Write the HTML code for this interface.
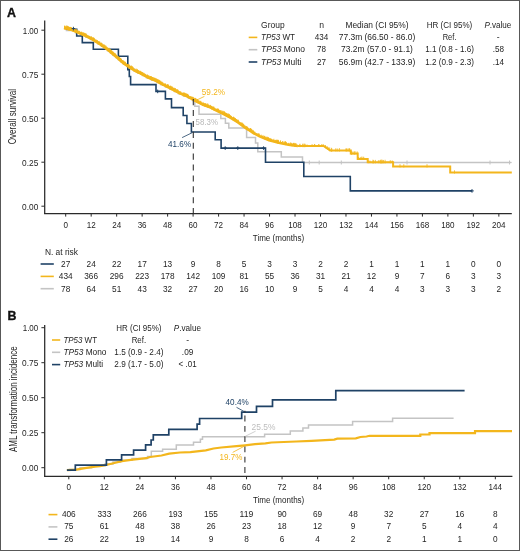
<!DOCTYPE html>
<html><head><meta charset="utf-8"><style>
html,body{margin:0;padding:0;background:#fff;}
body{width:520px;height:551px;overflow:hidden;position:relative;}
svg{position:absolute;left:0;top:0;will-change:transform;}
svg text{font-family:"Liberation Sans", sans-serif;}
.frame{position:absolute;left:0;top:0;width:518px;height:549px;border:1px solid #585858;}
</style></head><body>
<svg width="520" height="551" viewBox="0 0 520 551">
<polyline points="65.70,30.40 75.50,30.40 75.50,32.66 81.00,32.66 81.00,34.92 86.00,34.92 86.00,37.18 90.50,37.18 90.50,39.44 94.50,39.44 94.50,41.70 98.00,41.70 98.00,43.96 101.50,43.96 101.50,46.22 104.50,46.22 104.50,48.48 107.50,48.48 107.50,50.74 110.50,50.74 110.50,53.00 113.00,53.00 113.00,55.26 116.00,55.26 116.00,57.52 118.50,57.52 118.50,59.78 121.00,59.78 121.00,62.04 123.50,62.04 123.50,64.30 127.00,64.30 127.00,66.56 130.50,66.56 130.50,68.82 134.00,68.82 134.00,71.08 138.00,71.08 138.00,73.34 142.50,73.34 142.50,75.60 146.50,75.60 146.50,77.86 151.50,77.86 151.50,80.12 157.00,80.12 157.00,82.38 161.00,82.38 161.00,84.64 165.50,84.64 165.50,86.90 170.00,86.90 170.00,89.16 174.50,89.16 174.50,91.42 178.50,91.42 178.50,93.68 183.50,93.68 183.50,95.94 188.50,95.94 188.50,98.20 192.50,98.20 192.50,100.46 194.80,100.46 194.80,106.20 199.00,106.20 199.00,114.20 220.80,114.20 220.80,118.60 225.40,118.60 225.40,123.20 228.80,123.20 228.80,128.00 246.60,128.00 246.60,137.50 255.50,137.50 255.50,143.00 257.80,143.00 257.80,151.70 281.30,151.70 281.30,157.00 302.50,157.00 302.50,162.50 511.30,162.50" fill="none" stroke="#c4c4c4" stroke-width="1.5" stroke-linejoin="miter" stroke-linecap="butt" />
<polyline points="65.70,29.20 76.70,29.20 76.70,36.00 82.30,36.00 82.30,42.60 93.30,42.60 93.30,49.20 118.40,49.20 118.40,56.30 127.80,56.30 127.80,69.60 129.30,69.60 129.30,76.50 130.60,76.50 130.60,84.60 156.00,84.60 156.00,91.40 165.40,91.40 165.40,98.90 171.50,98.90 171.50,107.60 183.20,107.60 183.20,115.50 186.90,115.50 186.90,123.50 191.40,123.50 191.40,132.00 215.20,132.00 215.20,139.80 221.10,139.80 221.10,148.10 265.50,148.10 265.50,162.30 303.80,162.30 303.80,176.50 350.30,176.50 350.30,190.90 472.00,190.90" fill="none" stroke="#1f4266" stroke-width="1.6" stroke-linejoin="miter" stroke-linecap="butt" />
<polyline points="64.00,27.90 71.50,29.80 79.20,33.10 85.00,35.60 92.70,39.50 100.40,44.30 108.10,50.00 115.80,56.40 123.50,63.20 130.00,67.60 136.00,71.30 140.00,73.10 147.70,77.40 155.40,80.60 163.10,84.60 170.80,88.50 180.00,93.40 187.70,96.60 195.40,100.90 203.10,104.80 210.80,107.60 215.00,109.80 222.70,113.50 230.40,117.50 238.10,122.30 245.80,128.10 250.00,130.60 253.50,133.00 259.60,136.20 269.20,140.10 278.80,142.70 288.50,144.70 298.00,146.00" fill="none" stroke="#f3b61c" stroke-width="2.7" stroke-linejoin="miter" stroke-linecap="butt" stroke-linejoin="round"/>
<polyline points="298.00,146.00 323.60,146.00 326.00,147.60 330.30,150.40 350.80,150.40 350.80,153.60 357.70,153.60 357.70,158.90 367.70,158.90 367.70,162.20 393.10,162.20 393.10,166.40 450.20,166.40 450.20,172.50 511.80,172.50" fill="none" stroke="#f3b61c" stroke-width="2.0" stroke-linejoin="miter" stroke-linecap="butt" />
<line x1="170.19" y1="85.59" x2="170.19" y2="89.14" stroke="#f3b61c" stroke-width="0.8"/>
<line x1="183.13" y1="92.96" x2="183.13" y2="95.20" stroke="#f3b61c" stroke-width="0.8"/>
<line x1="211.61" y1="106.20" x2="211.61" y2="108.28" stroke="#f3b61c" stroke-width="0.8"/>
<line x1="85.76" y1="33.26" x2="85.76" y2="36.40" stroke="#f3b61c" stroke-width="0.8"/>
<line x1="217.23" y1="108.71" x2="217.23" y2="110.91" stroke="#f3b61c" stroke-width="0.8"/>
<line x1="187.92" y1="94.73" x2="187.92" y2="96.99" stroke="#f3b61c" stroke-width="0.8"/>
<line x1="71.62" y1="28.13" x2="71.62" y2="30.82" stroke="#f3b61c" stroke-width="0.8"/>
<line x1="185.76" y1="93.84" x2="185.76" y2="96.64" stroke="#f3b61c" stroke-width="0.8"/>
<line x1="171.34" y1="86.59" x2="171.34" y2="90.26" stroke="#f3b61c" stroke-width="0.8"/>
<line x1="138.19" y1="70.03" x2="138.19" y2="72.46" stroke="#f3b61c" stroke-width="0.8"/>
<line x1="243.45" y1="123.75" x2="243.45" y2="127.16" stroke="#f3b61c" stroke-width="0.8"/>
<line x1="64.73" y1="25.51" x2="64.73" y2="29.03" stroke="#f3b61c" stroke-width="0.8"/>
<line x1="293.42" y1="143.86" x2="293.42" y2="145.91" stroke="#f3b61c" stroke-width="0.8"/>
<line x1="246.30" y1="126.60" x2="246.30" y2="128.68" stroke="#f3b61c" stroke-width="0.8"/>
<line x1="92.14" y1="37.16" x2="92.14" y2="39.26" stroke="#f3b61c" stroke-width="0.8"/>
<line x1="250.62" y1="128.82" x2="250.62" y2="131.72" stroke="#f3b61c" stroke-width="0.8"/>
<line x1="109.11" y1="49.27" x2="109.11" y2="51.42" stroke="#f3b61c" stroke-width="0.8"/>
<line x1="91.79" y1="37.05" x2="91.79" y2="39.34" stroke="#f3b61c" stroke-width="0.8"/>
<line x1="135.59" y1="69.17" x2="135.59" y2="71.46" stroke="#f3b61c" stroke-width="0.8"/>
<line x1="88.02" y1="35.13" x2="88.02" y2="37.42" stroke="#f3b61c" stroke-width="0.8"/>
<line x1="244.95" y1="125.20" x2="244.95" y2="127.64" stroke="#f3b61c" stroke-width="0.8"/>
<line x1="85.63" y1="34.19" x2="85.63" y2="36.54" stroke="#f3b61c" stroke-width="0.8"/>
<line x1="151.36" y1="76.30" x2="151.36" y2="79.91" stroke="#f3b61c" stroke-width="0.8"/>
<line x1="198.70" y1="100.51" x2="198.70" y2="102.75" stroke="#f3b61c" stroke-width="0.8"/>
<line x1="122.83" y1="60.64" x2="122.83" y2="63.87" stroke="#f3b61c" stroke-width="0.8"/>
<line x1="110.48" y1="49.55" x2="110.48" y2="53.03" stroke="#f3b61c" stroke-width="0.8"/>
<line x1="162.97" y1="83.36" x2="162.97" y2="85.34" stroke="#f3b61c" stroke-width="0.8"/>
<line x1="120.24" y1="58.78" x2="120.24" y2="61.16" stroke="#f3b61c" stroke-width="0.8"/>
<line x1="203.82" y1="103.52" x2="203.82" y2="105.74" stroke="#f3b61c" stroke-width="0.8"/>
<line x1="80.65" y1="31.88" x2="80.65" y2="34.78" stroke="#f3b61c" stroke-width="0.8"/>
<line x1="207.98" y1="103.75" x2="207.98" y2="107.28" stroke="#f3b61c" stroke-width="0.8"/>
<line x1="68.47" y1="26.60" x2="68.47" y2="29.30" stroke="#f3b61c" stroke-width="0.8"/>
<line x1="105.74" y1="45.74" x2="105.74" y2="48.67" stroke="#f3b61c" stroke-width="0.8"/>
<line x1="149.12" y1="75.50" x2="149.12" y2="79.15" stroke="#f3b61c" stroke-width="0.8"/>
<line x1="225.93" y1="113.06" x2="225.93" y2="115.22" stroke="#f3b61c" stroke-width="0.8"/>
<line x1="68.78" y1="27.21" x2="68.78" y2="30.36" stroke="#f3b61c" stroke-width="0.8"/>
<line x1="69.56" y1="27.44" x2="69.56" y2="30.20" stroke="#f3b61c" stroke-width="0.8"/>
<line x1="139.03" y1="71.07" x2="139.03" y2="73.13" stroke="#f3b61c" stroke-width="0.8"/>
<line x1="236.62" y1="119.20" x2="236.62" y2="122.42" stroke="#f3b61c" stroke-width="0.8"/>
<line x1="249.75" y1="128.68" x2="249.75" y2="131.22" stroke="#f3b61c" stroke-width="0.8"/>
<line x1="161.96" y1="81.58" x2="161.96" y2="85.02" stroke="#f3b61c" stroke-width="0.8"/>
<line x1="210.47" y1="105.39" x2="210.47" y2="108.33" stroke="#f3b61c" stroke-width="0.8"/>
<line x1="83.32" y1="32.57" x2="83.32" y2="36.24" stroke="#f3b61c" stroke-width="0.8"/>
<line x1="234.56" y1="117.81" x2="234.56" y2="121.02" stroke="#f3b61c" stroke-width="0.8"/>
<line x1="167.42" y1="85.37" x2="167.42" y2="87.44" stroke="#f3b61c" stroke-width="0.8"/>
<line x1="71.55" y1="27.50" x2="71.55" y2="30.27" stroke="#f3b61c" stroke-width="0.8"/>
<line x1="227.59" y1="114.19" x2="227.59" y2="117.19" stroke="#f3b61c" stroke-width="0.8"/>
<line x1="124.31" y1="62.03" x2="124.31" y2="64.48" stroke="#f3b61c" stroke-width="0.8"/>
<line x1="111.88" y1="50.74" x2="111.88" y2="54.25" stroke="#f3b61c" stroke-width="0.8"/>
<line x1="167.75" y1="85.19" x2="167.75" y2="87.69" stroke="#f3b61c" stroke-width="0.8"/>
<line x1="110.93" y1="50.29" x2="110.93" y2="53.63" stroke="#f3b61c" stroke-width="0.8"/>
<line x1="270.05" y1="137.97" x2="270.05" y2="140.92" stroke="#f3b61c" stroke-width="0.8"/>
<line x1="96.38" y1="39.64" x2="96.38" y2="43.03" stroke="#f3b61c" stroke-width="0.8"/>
<line x1="230.60" y1="115.47" x2="230.60" y2="117.88" stroke="#f3b61c" stroke-width="0.8"/>
<line x1="169.78" y1="86.12" x2="169.78" y2="88.42" stroke="#f3b61c" stroke-width="0.8"/>
<line x1="210.65" y1="105.95" x2="210.65" y2="108.43" stroke="#f3b61c" stroke-width="0.8"/>
<line x1="293.81" y1="143.37" x2="293.81" y2="145.42" stroke="#f3b61c" stroke-width="0.8"/>
<line x1="268.32" y1="137.48" x2="268.32" y2="140.64" stroke="#f3b61c" stroke-width="0.8"/>
<line x1="136.73" y1="69.73" x2="136.73" y2="71.68" stroke="#f3b61c" stroke-width="0.8"/>
<line x1="170.76" y1="85.78" x2="170.76" y2="89.16" stroke="#f3b61c" stroke-width="0.8"/>
<line x1="97.48" y1="40.19" x2="97.48" y2="43.22" stroke="#f3b61c" stroke-width="0.8"/>
<line x1="211.63" y1="106.01" x2="211.63" y2="109.35" stroke="#f3b61c" stroke-width="0.8"/>
<line x1="224.36" y1="112.00" x2="224.36" y2="114.76" stroke="#f3b61c" stroke-width="0.8"/>
<line x1="67.11" y1="26.06" x2="67.11" y2="29.24" stroke="#f3b61c" stroke-width="0.8"/>
<line x1="128.17" y1="64.06" x2="128.17" y2="67.21" stroke="#f3b61c" stroke-width="0.8"/>
<line x1="208.01" y1="104.87" x2="208.01" y2="107.48" stroke="#f3b61c" stroke-width="0.8"/>
<line x1="276.12" y1="139.60" x2="276.12" y2="143.16" stroke="#f3b61c" stroke-width="0.8"/>
<line x1="94.92" y1="39.02" x2="94.92" y2="42.04" stroke="#f3b61c" stroke-width="0.8"/>
<line x1="152.55" y1="77.16" x2="152.55" y2="80.63" stroke="#f3b61c" stroke-width="0.8"/>
<line x1="284.99" y1="141.44" x2="284.99" y2="144.51" stroke="#f3b61c" stroke-width="0.8"/>
<line x1="233.10" y1="117.12" x2="233.10" y2="120.17" stroke="#f3b61c" stroke-width="0.8"/>
<line x1="114.38" y1="53.02" x2="114.38" y2="56.67" stroke="#f3b61c" stroke-width="0.8"/>
<line x1="189.93" y1="96.31" x2="189.93" y2="98.79" stroke="#f3b61c" stroke-width="0.8"/>
<line x1="264.34" y1="136.43" x2="264.34" y2="138.50" stroke="#f3b61c" stroke-width="0.8"/>
<line x1="193.04" y1="97.07" x2="193.04" y2="99.85" stroke="#f3b61c" stroke-width="0.8"/>
<line x1="253.45" y1="130.24" x2="253.45" y2="133.57" stroke="#f3b61c" stroke-width="0.8"/>
<line x1="142.79" y1="72.64" x2="142.79" y2="74.80" stroke="#f3b61c" stroke-width="0.8"/>
<line x1="185.16" y1="93.24" x2="185.16" y2="96.64" stroke="#f3b61c" stroke-width="0.8"/>
<line x1="285.34" y1="141.08" x2="285.34" y2="144.67" stroke="#f3b61c" stroke-width="0.8"/>
<line x1="116.28" y1="55.16" x2="116.28" y2="57.59" stroke="#f3b61c" stroke-width="0.8"/>
<line x1="213.71" y1="106.70" x2="213.71" y2="110.11" stroke="#f3b61c" stroke-width="0.8"/>
<line x1="137.35" y1="69.79" x2="137.35" y2="73.20" stroke="#f3b61c" stroke-width="0.8"/>
<line x1="113.20" y1="51.65" x2="113.20" y2="55.27" stroke="#f3b61c" stroke-width="0.8"/>
<line x1="198.34" y1="100.25" x2="198.34" y2="103.11" stroke="#f3b61c" stroke-width="0.8"/>
<line x1="205.86" y1="103.20" x2="205.86" y2="106.83" stroke="#f3b61c" stroke-width="0.8"/>
<line x1="158.10" y1="79.82" x2="158.10" y2="82.73" stroke="#f3b61c" stroke-width="0.8"/>
<line x1="225.88" y1="112.93" x2="225.88" y2="115.80" stroke="#f3b61c" stroke-width="0.8"/>
<line x1="127.43" y1="64.11" x2="127.43" y2="66.26" stroke="#f3b61c" stroke-width="0.8"/>
<line x1="175.82" y1="89.52" x2="175.82" y2="91.78" stroke="#f3b61c" stroke-width="0.8"/>
<line x1="280.56" y1="140.23" x2="280.56" y2="143.52" stroke="#f3b61c" stroke-width="0.8"/>
<line x1="109.90" y1="49.03" x2="109.90" y2="52.16" stroke="#f3b61c" stroke-width="0.8"/>
<line x1="147.54" y1="75.85" x2="147.54" y2="77.96" stroke="#f3b61c" stroke-width="0.8"/>
<line x1="93.26" y1="37.75" x2="93.26" y2="40.11" stroke="#f3b61c" stroke-width="0.8"/>
<line x1="188.38" y1="94.94" x2="188.38" y2="97.52" stroke="#f3b61c" stroke-width="0.8"/>
<line x1="188.15" y1="95.19" x2="188.15" y2="97.47" stroke="#f3b61c" stroke-width="0.8"/>
<line x1="213.62" y1="106.69" x2="213.62" y2="110.11" stroke="#f3b61c" stroke-width="0.8"/>
<line x1="264.57" y1="136.13" x2="264.57" y2="139.36" stroke="#f3b61c" stroke-width="0.8"/>
<line x1="275.28" y1="140.23" x2="275.28" y2="142.71" stroke="#f3b61c" stroke-width="0.8"/>
<line x1="115.51" y1="53.31" x2="115.51" y2="56.79" stroke="#f3b61c" stroke-width="0.8"/>
<line x1="120.46" y1="58.32" x2="120.46" y2="60.70" stroke="#f3b61c" stroke-width="0.8"/>
<line x1="258.83" y1="133.04" x2="258.83" y2="136.35" stroke="#f3b61c" stroke-width="0.8"/>
<line x1="158.61" y1="80.43" x2="158.61" y2="82.38" stroke="#f3b61c" stroke-width="0.8"/>
<line x1="223.87" y1="111.15" x2="223.87" y2="114.77" stroke="#f3b61c" stroke-width="0.8"/>
<line x1="182.63" y1="92.56" x2="182.63" y2="95.36" stroke="#f3b61c" stroke-width="0.8"/>
<line x1="108.71" y1="48.43" x2="108.71" y2="50.53" stroke="#f3b61c" stroke-width="0.8"/>
<line x1="193.36" y1="97.27" x2="193.36" y2="100.19" stroke="#f3b61c" stroke-width="0.8"/>
<line x1="107.67" y1="47.65" x2="107.67" y2="51.05" stroke="#f3b61c" stroke-width="0.8"/>
<line x1="280.94" y1="141.93" x2="280.94" y2="143.96" stroke="#f3b61c" stroke-width="0.8"/>
<line x1="172.45" y1="87.44" x2="172.45" y2="89.93" stroke="#f3b61c" stroke-width="0.8"/>
<line x1="184.87" y1="92.77" x2="184.87" y2="95.75" stroke="#f3b61c" stroke-width="0.8"/>
<line x1="228.22" y1="114.58" x2="228.22" y2="116.82" stroke="#f3b61c" stroke-width="0.8"/>
<line x1="237.16" y1="119.65" x2="237.16" y2="121.91" stroke="#f3b61c" stroke-width="0.8"/>
<line x1="184.23" y1="92.90" x2="184.23" y2="96.39" stroke="#f3b61c" stroke-width="0.8"/>
<line x1="229.07" y1="114.48" x2="229.07" y2="117.51" stroke="#f3b61c" stroke-width="0.8"/>
<line x1="204.55" y1="102.97" x2="204.55" y2="106.62" stroke="#f3b61c" stroke-width="0.8"/>
<line x1="124.88" y1="62.01" x2="124.88" y2="65.24" stroke="#f3b61c" stroke-width="0.8"/>
<line x1="254.74" y1="131.45" x2="254.74" y2="134.95" stroke="#f3b61c" stroke-width="0.8"/>
<line x1="226.77" y1="113.14" x2="226.77" y2="116.40" stroke="#f3b61c" stroke-width="0.8"/>
<line x1="233.26" y1="117.33" x2="233.26" y2="119.85" stroke="#f3b61c" stroke-width="0.8"/>
<line x1="67.07" y1="26.54" x2="67.07" y2="29.58" stroke="#f3b61c" stroke-width="0.8"/>
<line x1="118.77" y1="56.60" x2="118.77" y2="59.69" stroke="#f3b61c" stroke-width="0.8"/>
<line x1="218.59" y1="109.29" x2="218.59" y2="112.15" stroke="#f3b61c" stroke-width="0.8"/>
<line x1="228.27" y1="113.34" x2="228.27" y2="116.98" stroke="#f3b61c" stroke-width="0.8"/>
<line x1="208.23" y1="104.75" x2="208.23" y2="107.12" stroke="#f3b61c" stroke-width="0.8"/>
<line x1="76.38" y1="29.57" x2="76.38" y2="32.15" stroke="#f3b61c" stroke-width="0.8"/>
<line x1="123.16" y1="60.75" x2="123.16" y2="63.64" stroke="#f3b61c" stroke-width="0.8"/>
<line x1="290.33" y1="142.43" x2="290.33" y2="146.10" stroke="#f3b61c" stroke-width="0.8"/>
<line x1="253.54" y1="131.05" x2="253.54" y2="134.02" stroke="#f3b61c" stroke-width="0.8"/>
<line x1="75.13" y1="29.60" x2="75.13" y2="31.81" stroke="#f3b61c" stroke-width="0.8"/>
<line x1="104.07" y1="44.40" x2="104.07" y2="47.40" stroke="#f3b61c" stroke-width="0.8"/>
<line x1="285.23" y1="141.98" x2="285.23" y2="144.83" stroke="#f3b61c" stroke-width="0.8"/>
<line x1="149.93" y1="76.11" x2="149.93" y2="79.18" stroke="#f3b61c" stroke-width="0.8"/>
<line x1="130.78" y1="65.77" x2="130.78" y2="68.21" stroke="#f3b61c" stroke-width="0.8"/>
<line x1="121.79" y1="60.20" x2="121.79" y2="62.39" stroke="#f3b61c" stroke-width="0.8"/>
<line x1="155.62" y1="77.93" x2="155.62" y2="81.17" stroke="#f3b61c" stroke-width="0.8"/>
<line x1="81.76" y1="32.16" x2="81.76" y2="34.84" stroke="#f3b61c" stroke-width="0.8"/>
<line x1="291.74" y1="143.41" x2="291.74" y2="146.25" stroke="#f3b61c" stroke-width="0.8"/>
<line x1="233.29" y1="116.96" x2="233.29" y2="120.60" stroke="#f3b61c" stroke-width="0.8"/>
<line x1="205.49" y1="103.39" x2="205.49" y2="106.41" stroke="#f3b61c" stroke-width="0.8"/>
<line x1="112.13" y1="50.88" x2="112.13" y2="53.73" stroke="#f3b61c" stroke-width="0.8"/>
<line x1="167.96" y1="84.80" x2="167.96" y2="87.52" stroke="#f3b61c" stroke-width="0.8"/>
<line x1="200.49" y1="101.10" x2="200.49" y2="104.39" stroke="#f3b61c" stroke-width="0.8"/>
<line x1="235.98" y1="119.66" x2="235.98" y2="121.78" stroke="#f3b61c" stroke-width="0.8"/>
<line x1="247.66" y1="127.06" x2="247.66" y2="129.61" stroke="#f3b61c" stroke-width="0.8"/>
<line x1="224.49" y1="112.35" x2="224.49" y2="115.31" stroke="#f3b61c" stroke-width="0.8"/>
<line x1="240.43" y1="122.66" x2="240.43" y2="125.02" stroke="#f3b61c" stroke-width="0.8"/>
<line x1="73.82" y1="28.88" x2="73.82" y2="31.28" stroke="#f3b61c" stroke-width="0.8"/>
<line x1="210.09" y1="104.81" x2="210.09" y2="107.68" stroke="#f3b61c" stroke-width="0.8"/>
<line x1="84.78" y1="33.47" x2="84.78" y2="36.35" stroke="#f3b61c" stroke-width="0.8"/>
<line x1="151.70" y1="77.14" x2="151.70" y2="79.43" stroke="#f3b61c" stroke-width="0.8"/>
<line x1="238.44" y1="120.58" x2="238.44" y2="122.63" stroke="#f3b61c" stroke-width="0.8"/>
<line x1="244.03" y1="124.53" x2="244.03" y2="127.20" stroke="#f3b61c" stroke-width="0.8"/>
<line x1="253.63" y1="131.24" x2="253.63" y2="134.31" stroke="#f3b61c" stroke-width="0.8"/>
<line x1="140.55" y1="71.41" x2="140.55" y2="74.65" stroke="#f3b61c" stroke-width="0.8"/>
<line x1="164.41" y1="83.95" x2="164.41" y2="86.04" stroke="#f3b61c" stroke-width="0.8"/>
<line x1="82.92" y1="32.52" x2="82.92" y2="35.43" stroke="#f3b61c" stroke-width="0.8"/>
<line x1="224.56" y1="111.68" x2="224.56" y2="114.96" stroke="#f3b61c" stroke-width="0.8"/>
<line x1="114.37" y1="53.40" x2="114.37" y2="55.46" stroke="#f3b61c" stroke-width="0.8"/>
<line x1="233.81" y1="117.45" x2="233.81" y2="119.86" stroke="#f3b61c" stroke-width="0.8"/>
<line x1="148.11" y1="75.27" x2="148.11" y2="77.84" stroke="#f3b61c" stroke-width="0.8"/>
<line x1="230.14" y1="115.20" x2="230.14" y2="118.74" stroke="#f3b61c" stroke-width="0.8"/>
<line x1="277.78" y1="139.82" x2="277.78" y2="143.15" stroke="#f3b61c" stroke-width="0.8"/>
<line x1="138.73" y1="70.31" x2="138.73" y2="73.87" stroke="#f3b61c" stroke-width="0.8"/>
<line x1="122.55" y1="60.29" x2="122.55" y2="62.85" stroke="#f3b61c" stroke-width="0.8"/>
<line x1="156.94" y1="79.69" x2="156.94" y2="81.95" stroke="#f3b61c" stroke-width="0.8"/>
<line x1="250.64" y1="128.62" x2="250.64" y2="132.02" stroke="#f3b61c" stroke-width="0.8"/>
<line x1="105.82" y1="45.59" x2="105.82" y2="49.06" stroke="#f3b61c" stroke-width="0.8"/>
<line x1="69.79" y1="27.28" x2="69.79" y2="30.16" stroke="#f3b61c" stroke-width="0.8"/>
<line x1="252.33" y1="130.30" x2="252.33" y2="133.19" stroke="#f3b61c" stroke-width="0.8"/>
<line x1="84.22" y1="33.26" x2="84.22" y2="36.48" stroke="#f3b61c" stroke-width="0.8"/>
<line x1="84.37" y1="33.84" x2="84.37" y2="36.01" stroke="#f3b61c" stroke-width="0.8"/>
<line x1="216.08" y1="108.76" x2="216.08" y2="111.07" stroke="#f3b61c" stroke-width="0.8"/>
<line x1="186.33" y1="93.90" x2="186.33" y2="96.52" stroke="#f3b61c" stroke-width="0.8"/>
<line x1="179.82" y1="91.15" x2="179.82" y2="94.34" stroke="#f3b61c" stroke-width="0.8"/>
<line x1="278.16" y1="140.22" x2="278.16" y2="143.59" stroke="#f3b61c" stroke-width="0.8"/>
<line x1="186.87" y1="93.75" x2="186.87" y2="97.08" stroke="#f3b61c" stroke-width="0.8"/>
<line x1="162.73" y1="82.49" x2="162.73" y2="85.71" stroke="#f3b61c" stroke-width="0.8"/>
<line x1="152.25" y1="77.45" x2="152.25" y2="79.73" stroke="#f3b61c" stroke-width="0.8"/>
<line x1="132.76" y1="67.51" x2="132.76" y2="69.54" stroke="#f3b61c" stroke-width="0.8"/>
<line x1="91.40" y1="36.15" x2="91.40" y2="39.43" stroke="#f3b61c" stroke-width="0.8"/>
<line x1="79.15" y1="31.25" x2="79.15" y2="34.20" stroke="#f3b61c" stroke-width="0.8"/>
<line x1="73.09" y1="28.47" x2="73.09" y2="30.72" stroke="#f3b61c" stroke-width="0.8"/>
<line x1="119.54" y1="57.25" x2="119.54" y2="60.22" stroke="#f3b61c" stroke-width="0.8"/>
<line x1="107.78" y1="48.25" x2="107.78" y2="50.48" stroke="#f3b61c" stroke-width="0.8"/>
<line x1="137.36" y1="69.44" x2="137.36" y2="72.80" stroke="#f3b61c" stroke-width="0.8"/>
<line x1="125.39" y1="61.78" x2="125.39" y2="65.31" stroke="#f3b61c" stroke-width="0.8"/>
<line x1="192.35" y1="96.87" x2="192.35" y2="99.63" stroke="#f3b61c" stroke-width="0.8"/>
<line x1="76.20" y1="29.28" x2="76.20" y2="32.61" stroke="#f3b61c" stroke-width="0.8"/>
<line x1="187.74" y1="95.21" x2="187.74" y2="97.61" stroke="#f3b61c" stroke-width="0.8"/>
<line x1="218.07" y1="109.69" x2="218.07" y2="111.63" stroke="#f3b61c" stroke-width="0.8"/>
<line x1="151.32" y1="76.67" x2="151.32" y2="79.84" stroke="#f3b61c" stroke-width="0.8"/>
<line x1="101.31" y1="42.85" x2="101.31" y2="45.34" stroke="#f3b61c" stroke-width="0.8"/>
<line x1="267.48" y1="137.60" x2="267.48" y2="140.64" stroke="#f3b61c" stroke-width="0.8"/>
<line x1="126.80" y1="63.96" x2="126.80" y2="66.15" stroke="#f3b61c" stroke-width="0.8"/>
<line x1="64.92" y1="25.94" x2="64.92" y2="29.35" stroke="#f3b61c" stroke-width="0.8"/>
<line x1="83.84" y1="32.40" x2="83.84" y2="35.58" stroke="#f3b61c" stroke-width="0.8"/>
<line x1="176.66" y1="89.10" x2="176.66" y2="92.70" stroke="#f3b61c" stroke-width="0.8"/>
<line x1="264.70" y1="135.78" x2="264.70" y2="139.09" stroke="#f3b61c" stroke-width="0.8"/>
<line x1="278.57" y1="139.92" x2="278.57" y2="143.29" stroke="#f3b61c" stroke-width="0.8"/>
<line x1="191.42" y1="97.25" x2="191.42" y2="99.45" stroke="#f3b61c" stroke-width="0.8"/>
<line x1="137.28" y1="70.07" x2="137.28" y2="72.12" stroke="#f3b61c" stroke-width="0.8"/>
<line x1="173.65" y1="88.24" x2="173.65" y2="90.79" stroke="#f3b61c" stroke-width="0.8"/>
<line x1="89.28" y1="36.13" x2="89.28" y2="38.86" stroke="#f3b61c" stroke-width="0.8"/>
<line x1="67.48" y1="26.21" x2="67.48" y2="29.38" stroke="#f3b61c" stroke-width="0.8"/>
<line x1="196.26" y1="100.22" x2="196.26" y2="102.16" stroke="#f3b61c" stroke-width="0.8"/>
<line x1="251.19" y1="129.00" x2="251.19" y2="132.01" stroke="#f3b61c" stroke-width="0.8"/>
<line x1="152.36" y1="77.31" x2="152.36" y2="79.76" stroke="#f3b61c" stroke-width="0.8"/>
<line x1="156.14" y1="78.88" x2="156.14" y2="81.25" stroke="#f3b61c" stroke-width="0.8"/>
<line x1="235.32" y1="118.03" x2="235.32" y2="121.62" stroke="#f3b61c" stroke-width="0.8"/>
<line x1="233.53" y1="116.63" x2="233.53" y2="120.00" stroke="#f3b61c" stroke-width="0.8"/>
<line x1="97.47" y1="40.36" x2="97.47" y2="43.48" stroke="#f3b61c" stroke-width="0.8"/>
<line x1="106.58" y1="46.49" x2="106.58" y2="49.88" stroke="#f3b61c" stroke-width="0.8"/>
<line x1="85.63" y1="33.86" x2="85.63" y2="36.05" stroke="#f3b61c" stroke-width="0.8"/>
<line x1="159.56" y1="80.13" x2="159.56" y2="83.67" stroke="#f3b61c" stroke-width="0.8"/>
<line x1="184.00" y1="92.96" x2="184.00" y2="96.23" stroke="#f3b61c" stroke-width="0.8"/>
<line x1="154.68" y1="77.86" x2="154.68" y2="80.51" stroke="#f3b61c" stroke-width="0.8"/>
<line x1="158.13" y1="79.65" x2="158.13" y2="83.29" stroke="#f3b61c" stroke-width="0.8"/>
<line x1="218.70" y1="109.85" x2="218.70" y2="111.81" stroke="#f3b61c" stroke-width="0.8"/>
<line x1="144.48" y1="73.82" x2="144.48" y2="75.93" stroke="#f3b61c" stroke-width="0.8"/>
<line x1="183.49" y1="92.49" x2="183.49" y2="95.86" stroke="#f3b61c" stroke-width="0.8"/>
<line x1="101.56" y1="42.66" x2="101.56" y2="46.17" stroke="#f3b61c" stroke-width="0.8"/>
<line x1="146.89" y1="75.43" x2="146.89" y2="77.60" stroke="#f3b61c" stroke-width="0.8"/>
<line x1="294.91" y1="143.54" x2="294.91" y2="146.72" stroke="#f3b61c" stroke-width="0.8"/>
<line x1="110.63" y1="49.59" x2="110.63" y2="52.61" stroke="#f3b61c" stroke-width="0.8"/>
<line x1="84.03" y1="33.17" x2="84.03" y2="36.11" stroke="#f3b61c" stroke-width="0.8"/>
<line x1="141.43" y1="71.92" x2="141.43" y2="74.47" stroke="#f3b61c" stroke-width="0.8"/>
<line x1="93.55" y1="38.69" x2="93.55" y2="40.85" stroke="#f3b61c" stroke-width="0.8"/>
<line x1="191.44" y1="96.31" x2="191.44" y2="99.21" stroke="#f3b61c" stroke-width="0.8"/>
<line x1="93.23" y1="38.32" x2="93.23" y2="40.75" stroke="#f3b61c" stroke-width="0.8"/>
<line x1="120.82" y1="58.08" x2="120.82" y2="61.47" stroke="#f3b61c" stroke-width="0.8"/>
<line x1="192.47" y1="97.39" x2="192.47" y2="99.37" stroke="#f3b61c" stroke-width="0.8"/>
<line x1="218.26" y1="109.29" x2="218.26" y2="112.40" stroke="#f3b61c" stroke-width="0.8"/>
<line x1="153.68" y1="77.01" x2="153.68" y2="80.35" stroke="#f3b61c" stroke-width="0.8"/>
<line x1="111.17" y1="50.74" x2="111.17" y2="52.91" stroke="#f3b61c" stroke-width="0.8"/>
<line x1="197.53" y1="99.64" x2="197.53" y2="102.48" stroke="#f3b61c" stroke-width="0.8"/>
<line x1="197.18" y1="99.13" x2="197.18" y2="102.18" stroke="#f3b61c" stroke-width="0.8"/>
<line x1="221.21" y1="110.27" x2="221.21" y2="113.88" stroke="#f3b61c" stroke-width="0.8"/>
<line x1="174.28" y1="88.29" x2="174.28" y2="91.30" stroke="#f3b61c" stroke-width="0.8"/>
<line x1="241.53" y1="123.24" x2="241.53" y2="126.02" stroke="#f3b61c" stroke-width="0.8"/>
<line x1="160.07" y1="81.22" x2="160.07" y2="84.13" stroke="#f3b61c" stroke-width="0.8"/>
<line x1="187.36" y1="94.80" x2="187.36" y2="97.48" stroke="#f3b61c" stroke-width="0.8"/>
<line x1="139.45" y1="70.86" x2="139.45" y2="74.06" stroke="#f3b61c" stroke-width="0.8"/>
<line x1="235.45" y1="118.10" x2="235.45" y2="121.34" stroke="#f3b61c" stroke-width="0.8"/>
<line x1="203.11" y1="103.07" x2="203.11" y2="105.21" stroke="#f3b61c" stroke-width="0.8"/>
<line x1="181.91" y1="92.76" x2="181.91" y2="94.78" stroke="#f3b61c" stroke-width="0.8"/>
<line x1="187.42" y1="94.50" x2="187.42" y2="96.96" stroke="#f3b61c" stroke-width="0.8"/>
<line x1="119.65" y1="57.67" x2="119.65" y2="61.19" stroke="#f3b61c" stroke-width="0.8"/>
<line x1="219.98" y1="110.45" x2="219.98" y2="113.11" stroke="#f3b61c" stroke-width="0.8"/>
<line x1="116.36" y1="55.09" x2="116.36" y2="58.00" stroke="#f3b61c" stroke-width="0.8"/>
<line x1="87.60" y1="35.27" x2="87.60" y2="37.40" stroke="#f3b61c" stroke-width="0.8"/>
<line x1="286.56" y1="142.30" x2="286.56" y2="144.65" stroke="#f3b61c" stroke-width="0.8"/>
<line x1="140.40" y1="71.07" x2="140.40" y2="74.57" stroke="#f3b61c" stroke-width="0.8"/>
<line x1="157.32" y1="78.99" x2="157.32" y2="81.94" stroke="#f3b61c" stroke-width="0.8"/>
<line x1="71.87" y1="28.07" x2="71.87" y2="30.53" stroke="#f3b61c" stroke-width="0.8"/>
<line x1="174.91" y1="89.20" x2="174.91" y2="91.64" stroke="#f3b61c" stroke-width="0.8"/>
<line x1="273.91" y1="138.77" x2="273.91" y2="142.17" stroke="#f3b61c" stroke-width="0.8"/>
<line x1="174.88" y1="88.60" x2="174.88" y2="92.07" stroke="#f3b61c" stroke-width="0.8"/>
<line x1="111.75" y1="51.61" x2="111.75" y2="53.87" stroke="#f3b61c" stroke-width="0.8"/>
<line x1="76.27" y1="29.33" x2="76.27" y2="32.53" stroke="#f3b61c" stroke-width="0.8"/>
<line x1="231.05" y1="115.98" x2="231.05" y2="119.13" stroke="#f3b61c" stroke-width="0.8"/>
<line x1="168.50" y1="85.37" x2="168.50" y2="87.68" stroke="#f3b61c" stroke-width="0.8"/>
<line x1="230.44" y1="115.54" x2="230.44" y2="117.78" stroke="#f3b61c" stroke-width="0.8"/>
<line x1="219.72" y1="110.25" x2="219.72" y2="112.83" stroke="#f3b61c" stroke-width="0.8"/>
<line x1="271.03" y1="138.61" x2="271.03" y2="140.94" stroke="#f3b61c" stroke-width="0.8"/>
<line x1="129.21" y1="65.85" x2="129.21" y2="67.93" stroke="#f3b61c" stroke-width="0.8"/>
<line x1="167.38" y1="84.22" x2="167.38" y2="87.08" stroke="#f3b61c" stroke-width="0.8"/>
<line x1="204.57" y1="103.78" x2="204.57" y2="106.14" stroke="#f3b61c" stroke-width="0.8"/>
<line x1="84.94" y1="32.97" x2="84.94" y2="36.22" stroke="#f3b61c" stroke-width="0.8"/>
<line x1="129.74" y1="66.03" x2="129.74" y2="68.28" stroke="#f3b61c" stroke-width="0.8"/>
<line x1="295.14" y1="143.78" x2="295.14" y2="146.51" stroke="#f3b61c" stroke-width="0.8"/>
<line x1="154.39" y1="77.79" x2="154.39" y2="80.59" stroke="#f3b61c" stroke-width="0.8"/>
<line x1="194.37" y1="98.52" x2="194.37" y2="101.08" stroke="#f3b61c" stroke-width="0.8"/>
<line x1="247.35" y1="127.23" x2="247.35" y2="130.04" stroke="#f3b61c" stroke-width="0.8"/>
<line x1="224.31" y1="111.44" x2="224.31" y2="115.04" stroke="#f3b61c" stroke-width="0.8"/>
<line x1="246.57" y1="126.10" x2="246.57" y2="129.09" stroke="#f3b61c" stroke-width="0.8"/>
<line x1="167.40" y1="84.62" x2="167.40" y2="87.93" stroke="#f3b61c" stroke-width="0.8"/>
<line x1="119.67" y1="58.09" x2="119.67" y2="60.40" stroke="#f3b61c" stroke-width="0.8"/>
<line x1="181.06" y1="91.83" x2="181.06" y2="94.80" stroke="#f3b61c" stroke-width="0.8"/>
<line x1="198.25" y1="100.28" x2="198.25" y2="102.52" stroke="#f3b61c" stroke-width="0.8"/>
<line x1="68.75" y1="27.02" x2="68.75" y2="29.71" stroke="#f3b61c" stroke-width="0.8"/>
<line x1="125.97" y1="63.61" x2="125.97" y2="65.66" stroke="#f3b61c" stroke-width="0.8"/>
<line x1="197.38" y1="99.25" x2="197.38" y2="102.56" stroke="#f3b61c" stroke-width="0.8"/>
<line x1="98.73" y1="41.50" x2="98.73" y2="43.49" stroke="#f3b61c" stroke-width="0.8"/>
<line x1="209.59" y1="105.40" x2="209.59" y2="107.78" stroke="#f3b61c" stroke-width="0.8"/>
<line x1="85.25" y1="33.77" x2="85.25" y2="35.99" stroke="#f3b61c" stroke-width="0.8"/>
<line x1="101.90" y1="43.20" x2="101.90" y2="46.59" stroke="#f3b61c" stroke-width="0.8"/>
<line x1="78.87" y1="30.75" x2="78.87" y2="33.31" stroke="#f3b61c" stroke-width="0.8"/>
<line x1="291.12" y1="143.21" x2="291.12" y2="145.99" stroke="#f3b61c" stroke-width="0.8"/>
<line x1="294.78" y1="143.73" x2="294.78" y2="146.45" stroke="#f3b61c" stroke-width="0.8"/>
<line x1="73.75" y1="27.91" x2="73.75" y2="31.40" stroke="#f3b61c" stroke-width="0.8"/>
<line x1="156.31" y1="78.67" x2="156.31" y2="81.34" stroke="#f3b61c" stroke-width="0.8"/>
<line x1="72.60" y1="28.09" x2="72.60" y2="31.36" stroke="#f3b61c" stroke-width="0.8"/>
<line x1="118.25" y1="56.18" x2="118.25" y2="59.07" stroke="#f3b61c" stroke-width="0.8"/>
<line x1="172.33" y1="87.22" x2="172.33" y2="89.78" stroke="#f3b61c" stroke-width="0.8"/>
<line x1="73.86" y1="28.15" x2="73.86" y2="31.21" stroke="#f3b61c" stroke-width="0.8"/>
<line x1="144.70" y1="73.31" x2="144.70" y2="76.75" stroke="#f3b61c" stroke-width="0.8"/>
<line x1="271.48" y1="139.04" x2="271.48" y2="141.66" stroke="#f3b61c" stroke-width="0.8"/>
<line x1="153.56" y1="77.91" x2="153.56" y2="80.21" stroke="#f3b61c" stroke-width="0.8"/>
<line x1="107.45" y1="47.53" x2="107.45" y2="49.73" stroke="#f3b61c" stroke-width="0.8"/>
<line x1="114.65" y1="53.51" x2="114.65" y2="55.97" stroke="#f3b61c" stroke-width="0.8"/>
<line x1="265.96" y1="136.43" x2="265.96" y2="139.02" stroke="#f3b61c" stroke-width="0.8"/>
<line x1="225.96" y1="112.91" x2="225.96" y2="115.31" stroke="#f3b61c" stroke-width="0.8"/>
<line x1="107.09" y1="47.65" x2="107.09" y2="50.26" stroke="#f3b61c" stroke-width="0.8"/>
<line x1="231.53" y1="115.94" x2="231.53" y2="118.50" stroke="#f3b61c" stroke-width="0.8"/>
<line x1="283.21" y1="141.42" x2="283.21" y2="144.69" stroke="#f3b61c" stroke-width="0.8"/>
<line x1="276.31" y1="140.02" x2="276.31" y2="142.50" stroke="#f3b61c" stroke-width="0.8"/>
<line x1="84.01" y1="33.51" x2="84.01" y2="36.00" stroke="#f3b61c" stroke-width="0.8"/>
<line x1="185.80" y1="93.59" x2="185.80" y2="96.21" stroke="#f3b61c" stroke-width="0.8"/>
<line x1="74.13" y1="28.30" x2="74.13" y2="31.27" stroke="#f3b61c" stroke-width="0.8"/>
<line x1="137.49" y1="69.49" x2="137.49" y2="72.37" stroke="#f3b61c" stroke-width="0.8"/>
<line x1="229.52" y1="114.85" x2="229.52" y2="118.04" stroke="#f3b61c" stroke-width="0.8"/>
<line x1="98.95" y1="41.73" x2="98.95" y2="44.15" stroke="#f3b61c" stroke-width="0.8"/>
<line x1="159.20" y1="79.82" x2="159.20" y2="83.27" stroke="#f3b61c" stroke-width="0.8"/>
<line x1="132.77" y1="67.11" x2="132.77" y2="69.41" stroke="#f3b61c" stroke-width="0.8"/>
<line x1="70.32" y1="27.61" x2="70.32" y2="30.52" stroke="#f3b61c" stroke-width="0.8"/>
<line x1="292.31" y1="143.31" x2="292.31" y2="146.41" stroke="#f3b61c" stroke-width="0.8"/>
<line x1="115.06" y1="53.91" x2="115.06" y2="57.01" stroke="#f3b61c" stroke-width="0.8"/>
<line x1="267.28" y1="136.70" x2="267.28" y2="139.74" stroke="#f3b61c" stroke-width="0.8"/>
<line x1="164.43" y1="83.55" x2="164.43" y2="85.58" stroke="#f3b61c" stroke-width="0.8"/>
<line x1="141.20" y1="71.60" x2="141.20" y2="74.02" stroke="#f3b61c" stroke-width="0.8"/>
<line x1="158.53" y1="80.64" x2="158.53" y2="82.86" stroke="#f3b61c" stroke-width="0.8"/>
<line x1="120.57" y1="58.62" x2="120.57" y2="61.14" stroke="#f3b61c" stroke-width="0.8"/>
<line x1="99.80" y1="41.65" x2="99.80" y2="44.80" stroke="#f3b61c" stroke-width="0.8"/>
<line x1="228.02" y1="114.16" x2="228.02" y2="116.77" stroke="#f3b61c" stroke-width="0.8"/>
<line x1="79.29" y1="31.52" x2="79.29" y2="33.54" stroke="#f3b61c" stroke-width="0.8"/>
<line x1="201.35" y1="101.78" x2="201.35" y2="104.27" stroke="#f3b61c" stroke-width="0.8"/>
<line x1="70.09" y1="26.97" x2="70.09" y2="30.46" stroke="#f3b61c" stroke-width="0.8"/>
<line x1="125.73" y1="62.93" x2="125.73" y2="65.17" stroke="#f3b61c" stroke-width="0.8"/>
<line x1="208.20" y1="104.77" x2="208.20" y2="107.33" stroke="#f3b61c" stroke-width="0.8"/>
<line x1="211.02" y1="105.64" x2="211.02" y2="108.28" stroke="#f3b61c" stroke-width="0.8"/>
<line x1="129.06" y1="64.34" x2="129.06" y2="67.81" stroke="#f3b61c" stroke-width="0.8"/>
<line x1="276.90" y1="140.49" x2="276.90" y2="142.65" stroke="#f3b61c" stroke-width="0.8"/>
<line x1="136.63" y1="68.64" x2="136.63" y2="72.28" stroke="#f3b61c" stroke-width="0.8"/>
<line x1="109.52" y1="48.64" x2="109.52" y2="51.76" stroke="#f3b61c" stroke-width="0.8"/>
<line x1="64.82" y1="25.89" x2="64.82" y2="28.50" stroke="#f3b61c" stroke-width="0.8"/>
<line x1="179.81" y1="91.26" x2="179.81" y2="94.14" stroke="#f3b61c" stroke-width="0.8"/>
<line x1="195.48" y1="98.18" x2="195.48" y2="101.80" stroke="#f3b61c" stroke-width="0.8"/>
<line x1="145.51" y1="74.48" x2="145.51" y2="76.95" stroke="#f3b61c" stroke-width="0.8"/>
<line x1="226.90" y1="113.37" x2="226.90" y2="116.98" stroke="#f3b61c" stroke-width="0.8"/>
<line x1="101.82" y1="43.32" x2="101.82" y2="46.10" stroke="#f3b61c" stroke-width="0.8"/>
<line x1="150.85" y1="76.36" x2="150.85" y2="79.60" stroke="#f3b61c" stroke-width="0.8"/>
<line x1="119.92" y1="57.84" x2="119.92" y2="60.34" stroke="#f3b61c" stroke-width="0.8"/>
<line x1="184.51" y1="93.27" x2="184.51" y2="95.30" stroke="#f3b61c" stroke-width="0.8"/>
<line x1="88.46" y1="35.63" x2="88.46" y2="37.75" stroke="#f3b61c" stroke-width="0.8"/>
<line x1="244.81" y1="125.96" x2="244.81" y2="128.16" stroke="#f3b61c" stroke-width="0.8"/>
<line x1="267.62" y1="137.63" x2="267.62" y2="140.00" stroke="#f3b61c" stroke-width="0.8"/>
<line x1="250.49" y1="128.38" x2="250.49" y2="131.56" stroke="#f3b61c" stroke-width="0.8"/>
<line x1="231.65" y1="116.60" x2="231.65" y2="119.10" stroke="#f3b61c" stroke-width="0.8"/>
<line x1="197.05" y1="99.52" x2="197.05" y2="102.68" stroke="#f3b61c" stroke-width="0.8"/>
<line x1="93.83" y1="37.67" x2="93.83" y2="40.77" stroke="#f3b61c" stroke-width="0.8"/>
<line x1="107.70" y1="47.90" x2="107.70" y2="50.85" stroke="#f3b61c" stroke-width="0.8"/>
<line x1="291.10" y1="142.68" x2="291.10" y2="145.81" stroke="#f3b61c" stroke-width="0.8"/>
<line x1="211.98" y1="106.08" x2="211.98" y2="109.65" stroke="#f3b61c" stroke-width="0.8"/>
<line x1="75.97" y1="29.62" x2="75.97" y2="31.75" stroke="#f3b61c" stroke-width="0.8"/>
<line x1="131.36" y1="65.46" x2="131.36" y2="69.12" stroke="#f3b61c" stroke-width="0.8"/>
<line x1="141.64" y1="71.85" x2="141.64" y2="74.73" stroke="#f3b61c" stroke-width="0.8"/>
<line x1="151.76" y1="76.96" x2="151.76" y2="80.29" stroke="#f3b61c" stroke-width="0.8"/>
<line x1="130.82" y1="66.12" x2="130.82" y2="69.12" stroke="#f3b61c" stroke-width="0.8"/>
<line x1="293.56" y1="143.12" x2="293.56" y2="146.26" stroke="#f3b61c" stroke-width="0.8"/>
<line x1="251.36" y1="129.44" x2="251.36" y2="131.66" stroke="#f3b61c" stroke-width="0.8"/>
<line x1="282.49" y1="141.03" x2="282.49" y2="143.81" stroke="#f3b61c" stroke-width="0.8"/>
<line x1="140.14" y1="70.69" x2="140.14" y2="73.60" stroke="#f3b61c" stroke-width="0.8"/>
<line x1="210.54" y1="105.69" x2="210.54" y2="108.01" stroke="#f3b61c" stroke-width="0.8"/>
<line x1="149.99" y1="76.35" x2="149.99" y2="78.36" stroke="#f3b61c" stroke-width="0.8"/>
<line x1="272.94" y1="139.19" x2="272.94" y2="141.25" stroke="#f3b61c" stroke-width="0.8"/>
<line x1="177.43" y1="90.59" x2="177.43" y2="92.87" stroke="#f3b61c" stroke-width="0.8"/>
<line x1="177.62" y1="89.60" x2="177.62" y2="92.94" stroke="#f3b61c" stroke-width="0.8"/>
<line x1="78.05" y1="30.45" x2="78.05" y2="33.52" stroke="#f3b61c" stroke-width="0.8"/>
<line x1="129.28" y1="65.05" x2="129.28" y2="68.50" stroke="#f3b61c" stroke-width="0.8"/>
<line x1="168.04" y1="84.46" x2="168.04" y2="87.66" stroke="#f3b61c" stroke-width="0.8"/>
<line x1="70.85" y1="27.57" x2="70.85" y2="29.70" stroke="#f3b61c" stroke-width="0.8"/>
<line x1="148.37" y1="75.80" x2="148.37" y2="78.27" stroke="#f3b61c" stroke-width="0.8"/>
<line x1="67.04" y1="25.63" x2="67.04" y2="29.23" stroke="#f3b61c" stroke-width="0.8"/>
<line x1="187.66" y1="94.37" x2="187.66" y2="97.69" stroke="#f3b61c" stroke-width="0.8"/>
<line x1="157.79" y1="79.62" x2="157.79" y2="83.00" stroke="#f3b61c" stroke-width="0.8"/>
<line x1="294.72" y1="142.87" x2="294.72" y2="146.46" stroke="#f3b61c" stroke-width="0.8"/>
<line x1="229.21" y1="113.90" x2="229.21" y2="117.42" stroke="#f3b61c" stroke-width="0.8"/>
<line x1="199.23" y1="100.74" x2="199.23" y2="103.35" stroke="#f3b61c" stroke-width="0.8"/>
<line x1="217.94" y1="109.38" x2="217.94" y2="111.95" stroke="#f3b61c" stroke-width="0.8"/>
<line x1="147.24" y1="74.43" x2="147.24" y2="77.95" stroke="#f3b61c" stroke-width="0.8"/>
<line x1="86.57" y1="33.77" x2="86.57" y2="37.00" stroke="#f3b61c" stroke-width="0.8"/>
<line x1="238.06" y1="119.69" x2="238.06" y2="122.80" stroke="#f3b61c" stroke-width="0.8"/>
<line x1="89.30" y1="35.78" x2="89.30" y2="38.32" stroke="#f3b61c" stroke-width="0.8"/>
<line x1="66.80" y1="26.46" x2="66.80" y2="29.09" stroke="#f3b61c" stroke-width="0.8"/>
<line x1="189.97" y1="96.43" x2="189.97" y2="98.71" stroke="#f3b61c" stroke-width="0.8"/>
<line x1="139.50" y1="71.64" x2="139.50" y2="73.75" stroke="#f3b61c" stroke-width="0.8"/>
<line x1="164.99" y1="83.68" x2="164.99" y2="85.99" stroke="#f3b61c" stroke-width="0.8"/>
<line x1="229.39" y1="115.28" x2="229.39" y2="117.69" stroke="#f3b61c" stroke-width="0.8"/>
<line x1="285.79" y1="142.26" x2="285.79" y2="144.50" stroke="#f3b61c" stroke-width="0.8"/>
<line x1="295.54" y1="143.31" x2="295.54" y2="146.34" stroke="#f3b61c" stroke-width="0.8"/>
<line x1="214.88" y1="107.86" x2="214.88" y2="110.86" stroke="#f3b61c" stroke-width="0.8"/>
<line x1="182.43" y1="93.04" x2="182.43" y2="95.16" stroke="#f3b61c" stroke-width="0.8"/>
<line x1="225.61" y1="112.66" x2="225.61" y2="115.75" stroke="#f3b61c" stroke-width="0.8"/>
<line x1="154.38" y1="78.03" x2="154.38" y2="81.01" stroke="#f3b61c" stroke-width="0.8"/>
<line x1="184.86" y1="93.13" x2="184.86" y2="96.15" stroke="#f3b61c" stroke-width="0.8"/>
<line x1="203.09" y1="101.91" x2="203.09" y2="105.47" stroke="#f3b61c" stroke-width="0.8"/>
<line x1="173.99" y1="87.67" x2="173.99" y2="90.89" stroke="#f3b61c" stroke-width="0.8"/>
<line x1="236.56" y1="119.68" x2="236.56" y2="122.30" stroke="#f3b61c" stroke-width="0.8"/>
<line x1="94.17" y1="38.09" x2="94.17" y2="40.87" stroke="#f3b61c" stroke-width="0.8"/>
<line x1="250.78" y1="128.10" x2="250.78" y2="131.77" stroke="#f3b61c" stroke-width="0.8"/>
<line x1="123.12" y1="60.84" x2="123.12" y2="63.56" stroke="#f3b61c" stroke-width="0.8"/>
<line x1="266.62" y1="137.32" x2="266.62" y2="139.74" stroke="#f3b61c" stroke-width="0.8"/>
<line x1="81.77" y1="31.78" x2="81.77" y2="35.09" stroke="#f3b61c" stroke-width="0.8"/>
<line x1="121.04" y1="58.78" x2="121.04" y2="62.20" stroke="#f3b61c" stroke-width="0.8"/>
<line x1="192.80" y1="96.71" x2="192.80" y2="100.03" stroke="#f3b61c" stroke-width="0.8"/>
<line x1="149.99" y1="76.62" x2="149.99" y2="78.61" stroke="#f3b61c" stroke-width="0.8"/>
<line x1="92.00" y1="37.48" x2="92.00" y2="40.09" stroke="#f3b61c" stroke-width="0.8"/>
<line x1="208.62" y1="105.62" x2="208.62" y2="107.66" stroke="#f3b61c" stroke-width="0.8"/>
<line x1="112.85" y1="51.64" x2="112.85" y2="55.10" stroke="#f3b61c" stroke-width="0.8"/>
<line x1="110.59" y1="49.61" x2="110.59" y2="52.29" stroke="#f3b61c" stroke-width="0.8"/>
<line x1="143.86" y1="72.81" x2="143.86" y2="75.84" stroke="#f3b61c" stroke-width="0.8"/>
<line x1="205.36" y1="103.54" x2="205.36" y2="105.78" stroke="#f3b61c" stroke-width="0.8"/>
<line x1="226.52" y1="113.45" x2="226.52" y2="115.60" stroke="#f3b61c" stroke-width="0.8"/>
<line x1="148.05" y1="75.07" x2="148.05" y2="78.74" stroke="#f3b61c" stroke-width="0.8"/>
<line x1="236.44" y1="119.29" x2="236.44" y2="121.76" stroke="#f3b61c" stroke-width="0.8"/>
<line x1="98.74" y1="41.54" x2="98.74" y2="44.20" stroke="#f3b61c" stroke-width="0.8"/>
<line x1="160.06" y1="81.31" x2="160.06" y2="84.12" stroke="#f3b61c" stroke-width="0.8"/>
<line x1="145.44" y1="74.40" x2="145.44" y2="76.73" stroke="#f3b61c" stroke-width="0.8"/>
<line x1="131.09" y1="66.73" x2="131.09" y2="69.15" stroke="#f3b61c" stroke-width="0.8"/>
<line x1="222.54" y1="110.74" x2="222.54" y2="114.31" stroke="#f3b61c" stroke-width="0.8"/>
<line x1="238.08" y1="119.85" x2="238.08" y2="122.56" stroke="#f3b61c" stroke-width="0.8"/>
<line x1="162.42" y1="82.62" x2="162.42" y2="85.32" stroke="#f3b61c" stroke-width="0.8"/>
<line x1="132.98" y1="66.92" x2="132.98" y2="70.02" stroke="#f3b61c" stroke-width="0.8"/>
<line x1="160.65" y1="80.57" x2="160.65" y2="84.07" stroke="#f3b61c" stroke-width="0.8"/>
<line x1="162.78" y1="82.30" x2="162.78" y2="85.66" stroke="#f3b61c" stroke-width="0.8"/>
<line x1="202.47" y1="103.18" x2="202.47" y2="105.27" stroke="#f3b61c" stroke-width="0.8"/>
<line x1="85.23" y1="33.95" x2="85.23" y2="36.53" stroke="#f3b61c" stroke-width="0.8"/>
<line x1="220.79" y1="110.45" x2="220.79" y2="113.95" stroke="#f3b61c" stroke-width="0.8"/>
<line x1="70.02" y1="27.24" x2="70.02" y2="29.98" stroke="#f3b61c" stroke-width="0.8"/>
<line x1="173.09" y1="87.53" x2="173.09" y2="90.63" stroke="#f3b61c" stroke-width="0.8"/>
<line x1="296.27" y1="143.44" x2="296.27" y2="146.82" stroke="#f3b61c" stroke-width="0.8"/>
<line x1="228.22" y1="114.71" x2="228.22" y2="116.75" stroke="#f3b61c" stroke-width="0.8"/>
<line x1="158.26" y1="80.74" x2="158.26" y2="83.04" stroke="#f3b61c" stroke-width="0.8"/>
<line x1="113.48" y1="52.67" x2="113.48" y2="54.84" stroke="#f3b61c" stroke-width="0.8"/>
<line x1="237.74" y1="120.47" x2="237.74" y2="122.69" stroke="#f3b61c" stroke-width="0.8"/>
<line x1="210.01" y1="105.76" x2="210.01" y2="108.13" stroke="#f3b61c" stroke-width="0.8"/>
<line x1="235.19" y1="118.77" x2="235.19" y2="120.90" stroke="#f3b61c" stroke-width="0.8"/>
<line x1="68.29" y1="26.75" x2="68.29" y2="30.34" stroke="#f3b61c" stroke-width="0.8"/>
<line x1="70.24" y1="27.37" x2="70.24" y2="30.24" stroke="#f3b61c" stroke-width="0.8"/>
<line x1="90.56" y1="36.54" x2="90.56" y2="38.99" stroke="#f3b61c" stroke-width="0.8"/>
<line x1="93.68" y1="38.05" x2="93.68" y2="40.20" stroke="#f3b61c" stroke-width="0.8"/>
<line x1="184.15" y1="92.49" x2="184.15" y2="95.78" stroke="#f3b61c" stroke-width="0.8"/>
<line x1="161.21" y1="81.79" x2="161.21" y2="84.09" stroke="#f3b61c" stroke-width="0.8"/>
<line x1="194.87" y1="97.76" x2="194.87" y2="101.18" stroke="#f3b61c" stroke-width="0.8"/>
<line x1="263.02" y1="134.99" x2="263.02" y2="138.62" stroke="#f3b61c" stroke-width="0.8"/>
<line x1="159.46" y1="80.63" x2="159.46" y2="84.07" stroke="#f3b61c" stroke-width="0.8"/>
<line x1="161.08" y1="82.12" x2="161.08" y2="84.31" stroke="#f3b61c" stroke-width="0.8"/>
<line x1="236.02" y1="119.31" x2="236.02" y2="121.50" stroke="#f3b61c" stroke-width="0.8"/>
<line x1="71.26" y1="28.28" x2="71.26" y2="30.73" stroke="#f3b61c" stroke-width="0.8"/>
<line x1="214.69" y1="107.96" x2="214.69" y2="109.96" stroke="#f3b61c" stroke-width="0.8"/>
<line x1="82.89" y1="33.39" x2="82.89" y2="35.51" stroke="#f3b61c" stroke-width="0.8"/>
<line x1="141.34" y1="71.93" x2="141.34" y2="75.00" stroke="#f3b61c" stroke-width="0.8"/>
<line x1="285.50" y1="142.34" x2="285.50" y2="145.15" stroke="#f3b61c" stroke-width="0.8"/>
<line x1="156.66" y1="78.68" x2="156.66" y2="81.90" stroke="#f3b61c" stroke-width="0.8"/>
<line x1="150.46" y1="76.34" x2="150.46" y2="79.10" stroke="#f3b61c" stroke-width="0.8"/>
<line x1="165.08" y1="84.30" x2="165.08" y2="86.31" stroke="#f3b61c" stroke-width="0.8"/>
<line x1="79.01" y1="30.78" x2="79.01" y2="33.66" stroke="#f3b61c" stroke-width="0.8"/>
<line x1="116.57" y1="54.95" x2="116.57" y2="57.53" stroke="#f3b61c" stroke-width="0.8"/>
<line x1="177.57" y1="89.72" x2="177.57" y2="92.96" stroke="#f3b61c" stroke-width="0.8"/>
<line x1="66.69" y1="25.53" x2="66.69" y2="29.15" stroke="#f3b61c" stroke-width="0.8"/>
<line x1="203.09" y1="102.93" x2="203.09" y2="105.49" stroke="#f3b61c" stroke-width="0.8"/>
<line x1="150.70" y1="76.51" x2="150.70" y2="79.50" stroke="#f3b61c" stroke-width="0.8"/>
<line x1="138.15" y1="70.38" x2="138.15" y2="73.21" stroke="#f3b61c" stroke-width="0.8"/>
<line x1="76.98" y1="30.11" x2="76.98" y2="32.48" stroke="#f3b61c" stroke-width="0.8"/>
<line x1="250.30" y1="128.22" x2="250.30" y2="131.66" stroke="#f3b61c" stroke-width="0.8"/>
<line x1="131.30" y1="67.19" x2="131.30" y2="69.26" stroke="#f3b61c" stroke-width="0.8"/>
<line x1="258.68" y1="134.11" x2="258.68" y2="136.58" stroke="#f3b61c" stroke-width="0.8"/>
<line x1="248.59" y1="128.39" x2="248.59" y2="130.41" stroke="#f3b61c" stroke-width="0.8"/>
<line x1="75.79" y1="29.87" x2="75.79" y2="32.76" stroke="#f3b61c" stroke-width="0.8"/>
<line x1="213.67" y1="106.75" x2="213.67" y2="110.32" stroke="#f3b61c" stroke-width="0.8"/>
<line x1="199.93" y1="100.76" x2="199.93" y2="103.98" stroke="#f3b61c" stroke-width="0.8"/>
<line x1="223.23" y1="110.83" x2="223.23" y2="114.37" stroke="#f3b61c" stroke-width="0.8"/>
<line x1="246.98" y1="126.31" x2="246.98" y2="129.56" stroke="#f3b61c" stroke-width="0.8"/>
<line x1="169.09" y1="85.79" x2="169.09" y2="87.92" stroke="#f3b61c" stroke-width="0.8"/>
<line x1="236.08" y1="119.66" x2="236.08" y2="121.79" stroke="#f3b61c" stroke-width="0.8"/>
<line x1="220.10" y1="110.23" x2="220.10" y2="112.35" stroke="#f3b61c" stroke-width="0.8"/>
<line x1="136.97" y1="69.95" x2="136.97" y2="72.86" stroke="#f3b61c" stroke-width="0.8"/>
<line x1="113.88" y1="52.97" x2="113.88" y2="55.84" stroke="#f3b61c" stroke-width="0.8"/>
<line x1="93.39" y1="37.44" x2="93.39" y2="40.19" stroke="#f3b61c" stroke-width="0.8"/>
<line x1="165.42" y1="83.87" x2="165.42" y2="86.97" stroke="#f3b61c" stroke-width="0.8"/>
<line x1="179.81" y1="91.57" x2="179.81" y2="94.18" stroke="#f3b61c" stroke-width="0.8"/>
<line x1="89.16" y1="36.05" x2="89.16" y2="38.26" stroke="#f3b61c" stroke-width="0.8"/>
<line x1="111.78" y1="51.19" x2="111.78" y2="53.40" stroke="#f3b61c" stroke-width="0.8"/>
<line x1="202.63" y1="102.65" x2="202.63" y2="105.26" stroke="#f3b61c" stroke-width="0.8"/>
<line x1="261.19" y1="134.64" x2="261.19" y2="137.58" stroke="#f3b61c" stroke-width="0.8"/>
<line x1="293.47" y1="142.82" x2="293.47" y2="145.97" stroke="#f3b61c" stroke-width="0.8"/>
<line x1="125.58" y1="62.21" x2="125.58" y2="65.14" stroke="#f3b61c" stroke-width="0.8"/>
<line x1="79.58" y1="31.49" x2="79.58" y2="34.08" stroke="#f3b61c" stroke-width="0.8"/>
<line x1="165.60" y1="84.13" x2="165.60" y2="87.03" stroke="#f3b61c" stroke-width="0.8"/>
<line x1="276.91" y1="139.86" x2="276.91" y2="142.64" stroke="#f3b61c" stroke-width="0.8"/>
<line x1="240.38" y1="122.44" x2="240.38" y2="124.90" stroke="#f3b61c" stroke-width="0.8"/>
<line x1="72.79" y1="28.22" x2="72.79" y2="31.14" stroke="#f3b61c" stroke-width="0.8"/>
<line x1="142.33" y1="72.04" x2="142.33" y2="75.64" stroke="#f3b61c" stroke-width="0.8"/>
<line x1="252.66" y1="129.76" x2="252.66" y2="133.06" stroke="#f3b61c" stroke-width="0.8"/>
<line x1="111.11" y1="49.94" x2="111.11" y2="52.93" stroke="#f3b61c" stroke-width="0.8"/>
<line x1="243.12" y1="123.93" x2="243.12" y2="127.43" stroke="#f3b61c" stroke-width="0.8"/>
<line x1="225.48" y1="112.54" x2="225.48" y2="116.14" stroke="#f3b61c" stroke-width="0.8"/>
<line x1="132.49" y1="66.58" x2="132.49" y2="69.77" stroke="#f3b61c" stroke-width="0.8"/>
<line x1="122.76" y1="60.19" x2="122.76" y2="63.05" stroke="#f3b61c" stroke-width="0.8"/>
<line x1="132.99" y1="67.74" x2="132.99" y2="69.89" stroke="#f3b61c" stroke-width="0.8"/>
<line x1="128.23" y1="64.55" x2="128.23" y2="66.96" stroke="#f3b61c" stroke-width="0.8"/>
<line x1="268.55" y1="137.66" x2="268.55" y2="141.09" stroke="#f3b61c" stroke-width="0.8"/>
<line x1="206.83" y1="103.83" x2="206.83" y2="107.04" stroke="#f3b61c" stroke-width="0.8"/>
<line x1="218.63" y1="108.93" x2="218.63" y2="112.21" stroke="#f3b61c" stroke-width="0.8"/>
<line x1="77.28" y1="30.59" x2="77.28" y2="33.15" stroke="#f3b61c" stroke-width="0.8"/>
<line x1="119.08" y1="57.55" x2="119.08" y2="60.12" stroke="#f3b61c" stroke-width="0.8"/>
<line x1="284.84" y1="141.64" x2="284.84" y2="144.55" stroke="#f3b61c" stroke-width="0.8"/>
<line x1="118.79" y1="57.77" x2="118.79" y2="59.88" stroke="#f3b61c" stroke-width="0.8"/>
<line x1="217.98" y1="108.33" x2="217.98" y2="111.84" stroke="#f3b61c" stroke-width="0.8"/>
<line x1="196.57" y1="98.68" x2="196.57" y2="102.34" stroke="#f3b61c" stroke-width="0.8"/>
<line x1="268.15" y1="137.00" x2="268.15" y2="140.10" stroke="#f3b61c" stroke-width="0.8"/>
<line x1="71.53" y1="27.35" x2="71.53" y2="31.00" stroke="#f3b61c" stroke-width="0.8"/>
<line x1="186.25" y1="93.58" x2="186.25" y2="96.43" stroke="#f3b61c" stroke-width="0.8"/>
<line x1="187.53" y1="94.16" x2="187.53" y2="96.96" stroke="#f3b61c" stroke-width="0.8"/>
<line x1="229.16" y1="114.39" x2="229.16" y2="117.17" stroke="#f3b61c" stroke-width="0.8"/>
<line x1="178.25" y1="89.91" x2="178.25" y2="93.54" stroke="#f3b61c" stroke-width="0.8"/>
<line x1="96.08" y1="39.87" x2="96.08" y2="42.38" stroke="#f3b61c" stroke-width="0.8"/>
<line x1="69.31" y1="27.21" x2="69.31" y2="30.17" stroke="#f3b61c" stroke-width="0.8"/>
<line x1="207.61" y1="103.49" x2="207.61" y2="107.06" stroke="#f3b61c" stroke-width="0.8"/>
<line x1="185.79" y1="93.87" x2="185.79" y2="95.85" stroke="#f3b61c" stroke-width="0.8"/>
<line x1="70.22" y1="27.18" x2="70.22" y2="30.56" stroke="#f3b61c" stroke-width="0.8"/>
<line x1="185.91" y1="93.75" x2="185.91" y2="97.00" stroke="#f3b61c" stroke-width="0.8"/>
<line x1="64.76" y1="26.10" x2="64.76" y2="29.41" stroke="#f3b61c" stroke-width="0.8"/>
<line x1="259.11" y1="133.89" x2="259.11" y2="136.40" stroke="#f3b61c" stroke-width="0.8"/>
<line x1="68.09" y1="27.17" x2="68.09" y2="29.56" stroke="#f3b61c" stroke-width="0.8"/>
<line x1="187.40" y1="94.14" x2="187.40" y2="97.25" stroke="#f3b61c" stroke-width="0.8"/>
<line x1="119.31" y1="57.44" x2="119.31" y2="59.67" stroke="#f3b61c" stroke-width="0.8"/>
<line x1="123.75" y1="60.81" x2="123.75" y2="64.11" stroke="#f3b61c" stroke-width="0.8"/>
<line x1="120.21" y1="58.48" x2="120.21" y2="60.85" stroke="#f3b61c" stroke-width="0.8"/>
<line x1="124.10" y1="61.61" x2="124.10" y2="63.86" stroke="#f3b61c" stroke-width="0.8"/>
<line x1="134.97" y1="68.47" x2="134.97" y2="71.67" stroke="#f3b61c" stroke-width="0.8"/>
<line x1="249.06" y1="128.64" x2="249.06" y2="130.70" stroke="#f3b61c" stroke-width="0.8"/>
<line x1="121.65" y1="60.00" x2="121.65" y2="62.65" stroke="#f3b61c" stroke-width="0.8"/>
<line x1="151.13" y1="76.71" x2="151.13" y2="80.24" stroke="#f3b61c" stroke-width="0.8"/>
<line x1="154.97" y1="78.25" x2="154.97" y2="81.56" stroke="#f3b61c" stroke-width="0.8"/>
<line x1="143.53" y1="72.91" x2="143.53" y2="75.50" stroke="#f3b61c" stroke-width="0.8"/>
<line x1="203.08" y1="103.00" x2="203.08" y2="105.76" stroke="#f3b61c" stroke-width="0.8"/>
<line x1="67.83" y1="26.51" x2="67.83" y2="29.10" stroke="#f3b61c" stroke-width="0.8"/>
<line x1="278.05" y1="141.06" x2="278.05" y2="143.34" stroke="#f3b61c" stroke-width="0.8"/>
<line x1="144.40" y1="74.05" x2="144.40" y2="76.22" stroke="#f3b61c" stroke-width="0.8"/>
<line x1="285.30" y1="142.50" x2="285.30" y2="144.66" stroke="#f3b61c" stroke-width="0.8"/>
<line x1="286.16" y1="141.92" x2="286.16" y2="144.49" stroke="#f3b61c" stroke-width="0.8"/>
<line x1="128.32" y1="64.55" x2="128.32" y2="66.60" stroke="#f3b61c" stroke-width="0.8"/>
<line x1="145.71" y1="74.12" x2="145.71" y2="76.58" stroke="#f3b61c" stroke-width="0.8"/>
<line x1="93.26" y1="37.76" x2="93.26" y2="40.63" stroke="#f3b61c" stroke-width="0.8"/>
<line x1="242.52" y1="122.66" x2="242.52" y2="126.24" stroke="#f3b61c" stroke-width="0.8"/>
<line x1="116.63" y1="55.48" x2="116.63" y2="57.95" stroke="#f3b61c" stroke-width="0.8"/>
<line x1="280.31" y1="141.13" x2="280.31" y2="143.33" stroke="#f3b61c" stroke-width="0.8"/>
<line x1="197.27" y1="99.85" x2="197.27" y2="103.17" stroke="#f3b61c" stroke-width="0.8"/>
<line x1="171.91" y1="86.58" x2="171.91" y2="89.99" stroke="#f3b61c" stroke-width="0.8"/>
<line x1="109.13" y1="47.80" x2="109.13" y2="51.44" stroke="#f3b61c" stroke-width="0.8"/>
<line x1="242.61" y1="123.79" x2="242.61" y2="125.80" stroke="#f3b61c" stroke-width="0.8"/>
<line x1="104.99" y1="45.48" x2="104.99" y2="47.77" stroke="#f3b61c" stroke-width="0.8"/>
<line x1="115.89" y1="54.51" x2="115.89" y2="57.31" stroke="#f3b61c" stroke-width="0.8"/>
<line x1="173.15" y1="88.01" x2="173.15" y2="89.96" stroke="#f3b61c" stroke-width="0.8"/>
<line x1="74.30" y1="28.65" x2="74.30" y2="31.66" stroke="#f3b61c" stroke-width="0.8"/>
<line x1="174.98" y1="88.70" x2="174.98" y2="91.18" stroke="#f3b61c" stroke-width="0.8"/>
<line x1="270.90" y1="138.59" x2="270.90" y2="141.24" stroke="#f3b61c" stroke-width="0.8"/>
<line x1="172.04" y1="86.37" x2="172.04" y2="89.90" stroke="#f3b61c" stroke-width="0.8"/>
<line x1="270.46" y1="138.77" x2="270.46" y2="141.58" stroke="#f3b61c" stroke-width="0.8"/>
<line x1="131.97" y1="66.23" x2="131.97" y2="69.42" stroke="#f3b61c" stroke-width="0.8"/>
<line x1="200.82" y1="100.86" x2="200.82" y2="104.45" stroke="#f3b61c" stroke-width="0.8"/>
<line x1="87.22" y1="34.85" x2="87.22" y2="37.38" stroke="#f3b61c" stroke-width="0.8"/>
<line x1="180.65" y1="91.45" x2="180.65" y2="94.27" stroke="#f3b61c" stroke-width="0.8"/>
<line x1="64.98" y1="26.37" x2="64.98" y2="28.76" stroke="#f3b61c" stroke-width="0.8"/>
<line x1="212.08" y1="106.62" x2="212.08" y2="108.70" stroke="#f3b61c" stroke-width="0.8"/>
<line x1="177.05" y1="89.01" x2="177.05" y2="92.64" stroke="#f3b61c" stroke-width="0.8"/>
<line x1="167.93" y1="84.38" x2="167.93" y2="87.71" stroke="#f3b61c" stroke-width="0.8"/>
<line x1="124.03" y1="61.39" x2="124.03" y2="64.20" stroke="#f3b61c" stroke-width="0.8"/>
<line x1="194.18" y1="98.11" x2="194.18" y2="100.89" stroke="#f3b61c" stroke-width="0.8"/>
<line x1="132.43" y1="66.85" x2="132.43" y2="69.66" stroke="#f3b61c" stroke-width="0.8"/>
<line x1="110.46" y1="49.77" x2="110.46" y2="53.15" stroke="#f3b61c" stroke-width="0.8"/>
<line x1="224.51" y1="112.38" x2="224.51" y2="115.56" stroke="#f3b61c" stroke-width="0.8"/>
<line x1="251.62" y1="129.09" x2="251.62" y2="132.44" stroke="#f3b61c" stroke-width="0.8"/>
<line x1="121.57" y1="59.93" x2="121.57" y2="61.89" stroke="#f3b61c" stroke-width="0.8"/>
<line x1="144.69" y1="73.87" x2="144.69" y2="76.86" stroke="#f3b61c" stroke-width="0.8"/>
<line x1="79.65" y1="32.06" x2="79.65" y2="34.17" stroke="#f3b61c" stroke-width="0.8"/>
<line x1="267.97" y1="138.02" x2="267.97" y2="140.27" stroke="#f3b61c" stroke-width="0.8"/>
<line x1="241.54" y1="122.32" x2="241.54" y2="125.34" stroke="#f3b61c" stroke-width="0.8"/>
<line x1="234.21" y1="117.62" x2="234.21" y2="121.06" stroke="#f3b61c" stroke-width="0.8"/>
<line x1="247.90" y1="127.57" x2="247.90" y2="130.50" stroke="#f3b61c" stroke-width="0.8"/>
<line x1="213.77" y1="107.05" x2="213.77" y2="109.65" stroke="#f3b61c" stroke-width="0.8"/>
<line x1="69.94" y1="26.74" x2="69.94" y2="30.06" stroke="#f3b61c" stroke-width="0.8"/>
<line x1="217.16" y1="108.54" x2="217.16" y2="111.68" stroke="#f3b61c" stroke-width="0.8"/>
<line x1="138.35" y1="70.73" x2="138.35" y2="72.98" stroke="#f3b61c" stroke-width="0.8"/>
<line x1="224.78" y1="113.05" x2="224.78" y2="115.55" stroke="#f3b61c" stroke-width="0.8"/>
<line x1="277.35" y1="139.82" x2="277.35" y2="143.41" stroke="#f3b61c" stroke-width="0.8"/>
<line x1="142.39" y1="72.30" x2="142.39" y2="75.14" stroke="#f3b61c" stroke-width="0.8"/>
<line x1="72.86" y1="28.22" x2="72.86" y2="31.08" stroke="#f3b61c" stroke-width="0.8"/>
<line x1="238.39" y1="120.82" x2="238.39" y2="123.09" stroke="#f3b61c" stroke-width="0.8"/>
<line x1="120.93" y1="58.90" x2="120.93" y2="60.94" stroke="#f3b61c" stroke-width="0.8"/>
<line x1="147.53" y1="74.84" x2="147.53" y2="78.43" stroke="#f3b61c" stroke-width="0.8"/>
<line x1="161.32" y1="81.84" x2="161.32" y2="84.18" stroke="#f3b61c" stroke-width="0.8"/>
<line x1="288.45" y1="142.83" x2="288.45" y2="145.51" stroke="#f3b61c" stroke-width="0.8"/>
<line x1="242.55" y1="123.79" x2="242.55" y2="126.84" stroke="#f3b61c" stroke-width="0.8"/>
<line x1="275.26" y1="140.04" x2="275.26" y2="142.91" stroke="#f3b61c" stroke-width="0.8"/>
<line x1="187.77" y1="93.85" x2="187.77" y2="97.12" stroke="#f3b61c" stroke-width="0.8"/>
<line x1="99.68" y1="42.20" x2="99.68" y2="44.60" stroke="#f3b61c" stroke-width="0.8"/>
<line x1="234.23" y1="117.63" x2="234.23" y2="120.90" stroke="#f3b61c" stroke-width="0.8"/>
<line x1="229.37" y1="114.59" x2="229.37" y2="117.27" stroke="#f3b61c" stroke-width="0.8"/>
<line x1="175.43" y1="88.04" x2="175.43" y2="91.52" stroke="#f3b61c" stroke-width="0.8"/>
<line x1="81.18" y1="31.58" x2="81.18" y2="34.73" stroke="#f3b61c" stroke-width="0.8"/>
<line x1="94.44" y1="38.62" x2="94.44" y2="41.55" stroke="#f3b61c" stroke-width="0.8"/>
<line x1="158.67" y1="80.10" x2="158.67" y2="83.22" stroke="#f3b61c" stroke-width="0.8"/>
<line x1="75.43" y1="29.39" x2="75.43" y2="31.54" stroke="#f3b61c" stroke-width="0.8"/>
<line x1="175.15" y1="89.09" x2="175.15" y2="91.14" stroke="#f3b61c" stroke-width="0.8"/>
<line x1="173.96" y1="87.90" x2="173.96" y2="91.50" stroke="#f3b61c" stroke-width="0.8"/>
<line x1="178.18" y1="90.97" x2="178.18" y2="93.45" stroke="#f3b61c" stroke-width="0.8"/>
<line x1="92.59" y1="37.98" x2="92.59" y2="40.29" stroke="#f3b61c" stroke-width="0.8"/>
<line x1="183.36" y1="93.15" x2="183.36" y2="95.78" stroke="#f3b61c" stroke-width="0.8"/>
<line x1="124.68" y1="61.62" x2="124.68" y2="64.79" stroke="#f3b61c" stroke-width="0.8"/>
<line x1="149.98" y1="76.13" x2="149.98" y2="78.85" stroke="#f3b61c" stroke-width="0.8"/>
<line x1="210.20" y1="105.74" x2="210.20" y2="108.20" stroke="#f3b61c" stroke-width="0.8"/>
<line x1="170.83" y1="85.96" x2="170.83" y2="89.42" stroke="#f3b61c" stroke-width="0.8"/>
<line x1="152.36" y1="76.97" x2="152.36" y2="80.61" stroke="#f3b61c" stroke-width="0.8"/>
<line x1="158.30" y1="79.56" x2="158.30" y2="82.78" stroke="#f3b61c" stroke-width="0.8"/>
<line x1="233.58" y1="117.36" x2="233.58" y2="120.44" stroke="#f3b61c" stroke-width="0.8"/>
<line x1="166.15" y1="84.59" x2="166.15" y2="86.91" stroke="#f3b61c" stroke-width="0.8"/>
<line x1="190.44" y1="96.39" x2="190.44" y2="98.91" stroke="#f3b61c" stroke-width="0.8"/>
<line x1="68.51" y1="26.43" x2="68.51" y2="29.70" stroke="#f3b61c" stroke-width="0.8"/>
<line x1="207.80" y1="104.96" x2="207.80" y2="107.59" stroke="#f3b61c" stroke-width="0.8"/>
<line x1="110.49" y1="50.45" x2="110.49" y2="52.47" stroke="#f3b61c" stroke-width="0.8"/>
<line x1="155.92" y1="78.77" x2="155.92" y2="81.94" stroke="#f3b61c" stroke-width="0.8"/>
<line x1="238.87" y1="121.24" x2="238.87" y2="123.60" stroke="#f3b61c" stroke-width="0.8"/>
<line x1="195.61" y1="98.04" x2="195.61" y2="101.70" stroke="#f3b61c" stroke-width="0.8"/>
<line x1="246.80" y1="126.75" x2="246.80" y2="129.95" stroke="#f3b61c" stroke-width="0.8"/>
<line x1="128.65" y1="64.55" x2="128.65" y2="67.40" stroke="#f3b61c" stroke-width="0.8"/>
<line x1="103.59" y1="44.28" x2="103.59" y2="47.77" stroke="#f3b61c" stroke-width="0.8"/>
<line x1="132.09" y1="66.55" x2="132.09" y2="69.21" stroke="#f3b61c" stroke-width="0.8"/>
<line x1="206.00" y1="104.17" x2="206.00" y2="107.02" stroke="#f3b61c" stroke-width="0.8"/>
<line x1="197.51" y1="100.26" x2="197.51" y2="102.80" stroke="#f3b61c" stroke-width="0.8"/>
<line x1="82.18" y1="32.25" x2="82.18" y2="35.38" stroke="#f3b61c" stroke-width="0.8"/>
<line x1="257.96" y1="133.36" x2="257.96" y2="135.76" stroke="#f3b61c" stroke-width="0.8"/>
<line x1="190.01" y1="96.07" x2="190.01" y2="98.65" stroke="#f3b61c" stroke-width="0.8"/>
<line x1="99.28" y1="41.48" x2="99.28" y2="44.94" stroke="#f3b61c" stroke-width="0.8"/>
<line x1="122.89" y1="60.61" x2="122.89" y2="62.73" stroke="#f3b61c" stroke-width="0.8"/>
<line x1="249.94" y1="128.71" x2="249.94" y2="131.10" stroke="#f3b61c" stroke-width="0.8"/>
<line x1="226.90" y1="113.56" x2="226.90" y2="116.92" stroke="#f3b61c" stroke-width="0.8"/>
<line x1="113.92" y1="52.37" x2="113.92" y2="55.52" stroke="#f3b61c" stroke-width="0.8"/>
<line x1="269.62" y1="137.98" x2="269.62" y2="140.73" stroke="#f3b61c" stroke-width="0.8"/>
<line x1="167.73" y1="84.87" x2="167.73" y2="87.79" stroke="#f3b61c" stroke-width="0.8"/>
<line x1="294.97" y1="143.90" x2="294.97" y2="146.21" stroke="#f3b61c" stroke-width="0.8"/>
<line x1="99.66" y1="41.86" x2="99.66" y2="44.38" stroke="#f3b61c" stroke-width="0.8"/>
<line x1="165.23" y1="83.28" x2="165.23" y2="86.81" stroke="#f3b61c" stroke-width="0.8"/>
<line x1="104.61" y1="44.83" x2="104.61" y2="47.99" stroke="#f3b61c" stroke-width="0.8"/>
<line x1="117.46" y1="56.27" x2="117.46" y2="58.59" stroke="#f3b61c" stroke-width="0.8"/>
<line x1="400.00" y1="164.20" x2="400.00" y2="167.50" stroke="#f3b61c" stroke-width="0.8"/>
<line x1="403.80" y1="164.20" x2="403.80" y2="167.50" stroke="#f3b61c" stroke-width="0.8"/>
<line x1="427.00" y1="164.20" x2="427.00" y2="167.50" stroke="#f3b61c" stroke-width="0.8"/>
<line x1="454.50" y1="170.30" x2="454.50" y2="173.60" stroke="#f3b61c" stroke-width="0.8"/>
<line x1="302.48" y1="143.73" x2="302.48" y2="147.13" stroke="#f3b61c" stroke-width="0.8"/>
<line x1="303.95" y1="143.57" x2="303.95" y2="147.21" stroke="#f3b61c" stroke-width="0.8"/>
<line x1="349.61" y1="148.26" x2="349.61" y2="151.47" stroke="#f3b61c" stroke-width="0.8"/>
<line x1="307.05" y1="144.45" x2="307.05" y2="146.77" stroke="#f3b61c" stroke-width="0.8"/>
<line x1="331.54" y1="147.82" x2="331.54" y2="151.69" stroke="#f3b61c" stroke-width="0.8"/>
<line x1="355.01" y1="151.15" x2="355.01" y2="154.82" stroke="#f3b61c" stroke-width="0.8"/>
<line x1="303.95" y1="144.39" x2="303.95" y2="146.81" stroke="#f3b61c" stroke-width="0.8"/>
<line x1="299.99" y1="143.73" x2="299.99" y2="147.13" stroke="#f3b61c" stroke-width="0.8"/>
<line x1="314.76" y1="144.20" x2="314.76" y2="146.90" stroke="#f3b61c" stroke-width="0.8"/>
<line x1="361.37" y1="156.63" x2="361.37" y2="160.03" stroke="#f3b61c" stroke-width="0.8"/>
<line x1="328.63" y1="147.30" x2="328.63" y2="150.32" stroke="#f3b61c" stroke-width="0.8"/>
<line x1="325.46" y1="145.12" x2="325.46" y2="148.30" stroke="#f3b61c" stroke-width="0.8"/>
<line x1="331.81" y1="148.50" x2="331.81" y2="151.35" stroke="#f3b61c" stroke-width="0.8"/>
<line x1="321.64" y1="144.18" x2="321.64" y2="146.91" stroke="#f3b61c" stroke-width="0.8"/>
<line x1="322.79" y1="144.48" x2="322.79" y2="146.76" stroke="#f3b61c" stroke-width="0.8"/>
<line x1="327.49" y1="146.42" x2="327.49" y2="149.64" stroke="#f3b61c" stroke-width="0.8"/>
<line x1="323.52" y1="144.38" x2="323.52" y2="146.81" stroke="#f3b61c" stroke-width="0.8"/>
<line x1="378.37" y1="160.18" x2="378.37" y2="163.21" stroke="#f3b61c" stroke-width="0.8"/>
<line x1="346.62" y1="148.56" x2="346.62" y2="151.32" stroke="#f3b61c" stroke-width="0.8"/>
<line x1="382.27" y1="159.87" x2="382.27" y2="163.36" stroke="#f3b61c" stroke-width="0.8"/>
<line x1="357.15" y1="151.37" x2="357.15" y2="154.71" stroke="#f3b61c" stroke-width="0.8"/>
<line x1="363.78" y1="156.85" x2="363.78" y2="159.93" stroke="#f3b61c" stroke-width="0.8"/>
<line x1="337.25" y1="148.47" x2="337.25" y2="151.36" stroke="#f3b61c" stroke-width="0.8"/>
<line x1="345.89" y1="148.38" x2="345.89" y2="151.41" stroke="#f3b61c" stroke-width="0.8"/>
<line x1="348.25" y1="148.31" x2="348.25" y2="151.44" stroke="#f3b61c" stroke-width="0.8"/>
<line x1="372.92" y1="159.72" x2="372.92" y2="163.44" stroke="#f3b61c" stroke-width="0.8"/>
<line x1="319.28" y1="144.48" x2="319.28" y2="146.76" stroke="#f3b61c" stroke-width="0.8"/>
<line x1="326.60" y1="146.45" x2="326.60" y2="148.76" stroke="#f3b61c" stroke-width="0.8"/>
<line x1="373.66" y1="160.02" x2="373.66" y2="163.29" stroke="#f3b61c" stroke-width="0.8"/>
<line x1="325.12" y1="145.31" x2="325.12" y2="147.87" stroke="#f3b61c" stroke-width="0.8"/>
<line x1="380.52" y1="159.78" x2="380.52" y2="163.41" stroke="#f3b61c" stroke-width="0.8"/>
<line x1="362.95" y1="156.64" x2="362.95" y2="160.03" stroke="#f3b61c" stroke-width="0.8"/>
<line x1="368.73" y1="160.20" x2="368.73" y2="163.20" stroke="#f3b61c" stroke-width="0.8"/>
<line x1="335.75" y1="148.29" x2="335.75" y2="151.45" stroke="#f3b61c" stroke-width="0.8"/>
<line x1="381.64" y1="159.61" x2="381.64" y2="163.50" stroke="#f3b61c" stroke-width="0.8"/>
<line x1="385.11" y1="159.78" x2="385.11" y2="163.41" stroke="#f3b61c" stroke-width="0.8"/>
<line x1="305.07" y1="144.23" x2="305.07" y2="146.89" stroke="#f3b61c" stroke-width="0.8"/>
<line x1="390.25" y1="160.10" x2="390.25" y2="163.25" stroke="#f3b61c" stroke-width="0.8"/>
<line x1="346.91" y1="148.56" x2="346.91" y2="151.32" stroke="#f3b61c" stroke-width="0.8"/>
<line x1="379.89" y1="160.13" x2="379.89" y2="163.23" stroke="#f3b61c" stroke-width="0.8"/>
<line x1="392.08" y1="160.62" x2="392.08" y2="162.99" stroke="#f3b61c" stroke-width="0.8"/>
<line x1="392.36" y1="160.69" x2="392.36" y2="162.96" stroke="#f3b61c" stroke-width="0.8"/>
<line x1="312.08" y1="144.07" x2="312.08" y2="146.96" stroke="#f3b61c" stroke-width="0.8"/>
<line x1="358.75" y1="157.28" x2="358.75" y2="159.71" stroke="#f3b61c" stroke-width="0.8"/>
<line x1="351.43" y1="151.07" x2="351.43" y2="154.87" stroke="#f3b61c" stroke-width="0.8"/>
<line x1="339.37" y1="148.06" x2="339.37" y2="151.57" stroke="#f3b61c" stroke-width="0.8"/>
<line x1="354.23" y1="151.46" x2="354.23" y2="154.67" stroke="#f3b61c" stroke-width="0.8"/>
<line x1="314.45" y1="143.99" x2="314.45" y2="147.01" stroke="#f3b61c" stroke-width="0.8"/>
<line x1="383.53" y1="159.96" x2="383.53" y2="163.32" stroke="#f3b61c" stroke-width="0.8"/>
<line x1="318.60" y1="144.01" x2="318.60" y2="147.00" stroke="#f3b61c" stroke-width="0.8"/>
<line x1="349.64" y1="148.53" x2="349.64" y2="151.34" stroke="#f3b61c" stroke-width="0.8"/>
<line x1="352.89" y1="151.41" x2="352.89" y2="154.70" stroke="#f3b61c" stroke-width="0.8"/>
<line x1="299.70" y1="144.26" x2="299.70" y2="146.87" stroke="#f3b61c" stroke-width="0.8"/>
<line x1="360.39" y1="157.16" x2="360.39" y2="159.77" stroke="#f3b61c" stroke-width="0.8"/>
<line x1="304.91" y1="143.66" x2="304.91" y2="147.17" stroke="#f3b61c" stroke-width="0.8"/>
<line x1="329.72" y1="147.47" x2="329.72" y2="151.30" stroke="#f3b61c" stroke-width="0.8"/>
<line x1="351.08" y1="151.99" x2="351.08" y2="154.41" stroke="#f3b61c" stroke-width="0.8"/>
<line x1="358.50" y1="157.11" x2="358.50" y2="159.79" stroke="#f3b61c" stroke-width="0.8"/>
<line x1="375.37" y1="159.90" x2="375.37" y2="163.35" stroke="#f3b61c" stroke-width="0.8"/>
<line x1="370.04" y1="160.64" x2="370.04" y2="162.98" stroke="#f3b61c" stroke-width="0.8"/>
<path d="M307.30,162.50H311.30M309.30,160.50V164.50" stroke="#c4c4c4" stroke-width="1.0" fill="none"/>
<path d="M317.20,162.50H321.20M319.20,160.50V164.50" stroke="#c4c4c4" stroke-width="1.0" fill="none"/>
<path d="M339.30,162.50H343.30M341.30,160.50V164.50" stroke="#c4c4c4" stroke-width="1.0" fill="none"/>
<path d="M405.00,162.50H409.00M407.00,160.50V164.50" stroke="#c4c4c4" stroke-width="1.0" fill="none"/>
<path d="M488.00,162.50H492.00M490.00,160.50V164.50" stroke="#c4c4c4" stroke-width="1.0" fill="none"/>
<path d="M507.50,162.50H511.50M509.50,160.50V164.50" stroke="#c4c4c4" stroke-width="1.0" fill="none"/>
<path d="M71.60,28.60H75.20M73.40,26.80V30.40" stroke="#1f4266" stroke-width="1.0" fill="none"/>
<path d="M155.90,91.40H159.50M157.70,89.60V93.20" stroke="#1f4266" stroke-width="1.0" fill="none"/>
<path d="M223.40,148.10H227.00M225.20,146.30V149.90" stroke="#1f4266" stroke-width="1.0" fill="none"/>
<path d="M236.00,148.10H239.60M237.80,146.30V149.90" stroke="#1f4266" stroke-width="1.0" fill="none"/>
<path d="M261.80,148.10H265.40M263.60,146.30V149.90" stroke="#1f4266" stroke-width="1.0" fill="none"/>
<path d="M470.20,190.90H473.80M472.00,189.10V192.70" stroke="#1f4266" stroke-width="1.0" fill="none"/>
<path d="M193.3,99.10V105.20M193.3,110.00V116.10M193.3,120.90V127.00M193.3,131.80V137.90M193.3,142.70V148.80M193.3,153.60V159.70M193.3,164.50V170.60M193.3,175.40V181.50M193.3,186.30V192.40M193.3,197.20V203.30M193.3,208.10V213.50" stroke="#333" stroke-width="1.1" fill="none"/>
<line x1="194.2" y1="101.3" x2="204.4" y2="96.4" stroke="#f3b61c" stroke-width="0.8"/>
<text x="201.8" y="95.4" font-size="8.6" fill="#f3b61c" textLength="23.2" lengthAdjust="spacingAndGlyphs">59.2%</text>
<text x="195.6" y="124.6" font-size="8.6" fill="#b9b9b9" textLength="22.4" lengthAdjust="spacingAndGlyphs">58.3%</text>
<line x1="182.1" y1="137.6" x2="192.4" y2="132.6" stroke="#1f4266" stroke-width="0.8"/>
<text x="168.1" y="146.6" font-size="8.6" fill="#1f4266" textLength="23.0" lengthAdjust="spacingAndGlyphs">41.6%</text>
<polyline points="68.80,469.60 80.00,469.60 80.00,467.73 91.50,467.73 91.50,465.86 105.00,465.86 105.00,463.99 113.00,463.99 113.00,462.12 120.50,462.12 120.50,460.25 132.00,460.25 132.00,458.38 147.50,458.38 147.50,456.51 149.60,456.51 149.60,456.40 151.30,456.40 151.30,451.30 162.60,451.30 162.60,449.20 176.30,449.20 176.30,445.00 193.50,445.00 193.50,442.20 200.40,442.20 200.40,439.20 202.50,439.20 202.50,436.70 264.60,436.70 264.60,434.20 290.30,434.20 290.30,431.10 302.90,431.10 302.90,428.00 308.50,428.00 308.50,424.90 352.60,424.90 352.60,421.40 392.60,421.40 392.60,418.20 453.60,418.20" fill="none" stroke="#c4c4c4" stroke-width="1.5" stroke-linejoin="miter" stroke-linecap="butt" />
<polyline points="66.90,470.20 76.40,469.60 85.00,468.20 95.00,466.60 100.00,466.20 106.00,465.00 115.40,462.80 121.90,461.20 130.80,459.80 146.20,458.20 150.00,457.00 161.50,455.50 169.20,453.60 180.00,452.50 190.40,452.20 205.80,450.30 213.50,448.50 221.20,447.50 236.50,446.20 245.00,445.30 255.00,444.20 265.40,443.30 271.50,442.50 296.20,441.50 311.50,440.80 325.00,440.20 334.20,439.60 337.30,438.60 355.80,438.40 360.40,437.00 366.50,436.50 369.60,435.80 420.30,435.80 420.30,434.50 429.50,434.50 429.50,433.20 475.00,433.20 475.00,431.20 512.00,431.20" fill="none" stroke="#f3b61c" stroke-width="2.2" stroke-linejoin="miter" stroke-linecap="butt" />
<polyline points="66.90,470.20 75.30,470.20 75.30,465.20 106.40,465.20 106.40,459.90 121.60,459.90 121.60,454.90 133.60,454.90 133.60,450.10 145.60,450.10 145.60,444.90 151.10,444.90 151.10,440.00 153.30,440.00 153.30,434.90 168.80,434.90 168.80,429.40 197.10,429.40 197.10,424.20 199.60,424.20 199.60,418.50 241.70,418.50 241.70,412.20 256.50,412.20 256.50,406.30 272.50,406.30 272.50,399.90 335.80,399.90 335.80,390.70 464.60,390.70" fill="none" stroke="#1f4266" stroke-width="1.7" stroke-linejoin="miter" stroke-linecap="butt" />
<path d="M244.9,410.8V412.6M244.9,415.60V421.40M244.9,425.90V431.70M244.9,436.20V442.00M244.9,446.50V452.30M244.9,456.80V462.60M244.9,467.10V472.90" stroke="#333" stroke-width="1.1" fill="none"/>
<line x1="236.5" y1="407.3" x2="244.3" y2="411.6" stroke="#1f4266" stroke-width="0.8"/>
<text x="225.6" y="405.4" font-size="8.6" fill="#1f4266" textLength="23.1" lengthAdjust="spacingAndGlyphs">40.4%</text>
<line x1="245.4" y1="436.2" x2="255.6" y2="431.2" stroke="#c4c4c4" stroke-width="0.8"/>
<text x="251.6" y="430.0" font-size="8.6" fill="#bdbdbd" textLength="23.9" lengthAdjust="spacingAndGlyphs">25.5%</text>
<line x1="232.7" y1="452.4" x2="244.6" y2="446.0" stroke="#f3b61c" stroke-width="0.8"/>
<text x="219.6" y="460.4" font-size="8.6" fill="#f3b61c" textLength="22.8" lengthAdjust="spacingAndGlyphs">19.7%</text>
<text x="7.10" y="17.20" font-size="12.4" text-anchor="start" fill="#111" font-weight="bold" stroke="#111" stroke-width="0.35">A</text>
<line x1="44.70" y1="20.40" x2="44.70" y2="214.10" stroke="#2a2a2a" stroke-width="1.25" />
<line x1="44.10" y1="213.60" x2="511.80" y2="213.60" stroke="#2a2a2a" stroke-width="1.25" />
<line x1="41.40" y1="30.20" x2="44.60" y2="30.20" stroke="#2a2a2a" stroke-width="1" />
<text x="38.30" y="33.50" font-size="9.6" text-anchor="end" fill="#1e1e1e" textLength="15.60" lengthAdjust="spacingAndGlyphs">1.00</text>
<line x1="41.40" y1="74.20" x2="44.60" y2="74.20" stroke="#2a2a2a" stroke-width="1" />
<text x="38.30" y="77.50" font-size="9.6" text-anchor="end" fill="#1e1e1e" textLength="16.20" lengthAdjust="spacingAndGlyphs">0.75</text>
<line x1="41.40" y1="118.20" x2="44.60" y2="118.20" stroke="#2a2a2a" stroke-width="1" />
<text x="38.30" y="121.50" font-size="9.6" text-anchor="end" fill="#1e1e1e" textLength="16.20" lengthAdjust="spacingAndGlyphs">0.50</text>
<line x1="41.40" y1="162.20" x2="44.60" y2="162.20" stroke="#2a2a2a" stroke-width="1" />
<text x="38.30" y="165.50" font-size="9.6" text-anchor="end" fill="#1e1e1e" textLength="16.20" lengthAdjust="spacingAndGlyphs">0.25</text>
<line x1="41.40" y1="206.20" x2="44.60" y2="206.20" stroke="#2a2a2a" stroke-width="1" />
<text x="38.30" y="209.50" font-size="9.6" text-anchor="end" fill="#1e1e1e" textLength="16.20" lengthAdjust="spacingAndGlyphs">0.00</text>
<line x1="65.70" y1="213.50" x2="65.70" y2="216.60" stroke="#2a2a2a" stroke-width="1" />
<text x="65.70" y="227.70" font-size="9.4" text-anchor="middle" fill="#1e1e1e" textLength="4.50" lengthAdjust="spacingAndGlyphs">0</text>
<line x1="91.18" y1="213.50" x2="91.18" y2="216.60" stroke="#2a2a2a" stroke-width="1" />
<text x="91.18" y="227.70" font-size="9.4" text-anchor="middle" fill="#1e1e1e" textLength="9.00" lengthAdjust="spacingAndGlyphs">12</text>
<line x1="116.66" y1="213.50" x2="116.66" y2="216.60" stroke="#2a2a2a" stroke-width="1" />
<text x="116.66" y="227.70" font-size="9.4" text-anchor="middle" fill="#1e1e1e" textLength="9.00" lengthAdjust="spacingAndGlyphs">24</text>
<line x1="142.14" y1="213.50" x2="142.14" y2="216.60" stroke="#2a2a2a" stroke-width="1" />
<text x="142.14" y="227.70" font-size="9.4" text-anchor="middle" fill="#1e1e1e" textLength="9.00" lengthAdjust="spacingAndGlyphs">36</text>
<line x1="167.62" y1="213.50" x2="167.62" y2="216.60" stroke="#2a2a2a" stroke-width="1" />
<text x="167.62" y="227.70" font-size="9.4" text-anchor="middle" fill="#1e1e1e" textLength="9.00" lengthAdjust="spacingAndGlyphs">48</text>
<line x1="193.10" y1="213.50" x2="193.10" y2="216.60" stroke="#2a2a2a" stroke-width="1" />
<text x="193.10" y="227.70" font-size="9.4" text-anchor="middle" fill="#1e1e1e" textLength="9.00" lengthAdjust="spacingAndGlyphs">60</text>
<line x1="218.58" y1="213.50" x2="218.58" y2="216.60" stroke="#2a2a2a" stroke-width="1" />
<text x="218.58" y="227.70" font-size="9.4" text-anchor="middle" fill="#1e1e1e" textLength="9.00" lengthAdjust="spacingAndGlyphs">72</text>
<line x1="244.06" y1="213.50" x2="244.06" y2="216.60" stroke="#2a2a2a" stroke-width="1" />
<text x="244.06" y="227.70" font-size="9.4" text-anchor="middle" fill="#1e1e1e" textLength="9.00" lengthAdjust="spacingAndGlyphs">84</text>
<line x1="269.54" y1="213.50" x2="269.54" y2="216.60" stroke="#2a2a2a" stroke-width="1" />
<text x="269.54" y="227.70" font-size="9.4" text-anchor="middle" fill="#1e1e1e" textLength="9.00" lengthAdjust="spacingAndGlyphs">96</text>
<line x1="295.02" y1="213.50" x2="295.02" y2="216.60" stroke="#2a2a2a" stroke-width="1" />
<text x="295.02" y="227.70" font-size="9.4" text-anchor="middle" fill="#1e1e1e" textLength="13.50" lengthAdjust="spacingAndGlyphs">108</text>
<line x1="320.50" y1="213.50" x2="320.50" y2="216.60" stroke="#2a2a2a" stroke-width="1" />
<text x="320.50" y="227.70" font-size="9.4" text-anchor="middle" fill="#1e1e1e" textLength="13.50" lengthAdjust="spacingAndGlyphs">120</text>
<line x1="345.98" y1="213.50" x2="345.98" y2="216.60" stroke="#2a2a2a" stroke-width="1" />
<text x="345.98" y="227.70" font-size="9.4" text-anchor="middle" fill="#1e1e1e" textLength="13.50" lengthAdjust="spacingAndGlyphs">132</text>
<line x1="371.46" y1="213.50" x2="371.46" y2="216.60" stroke="#2a2a2a" stroke-width="1" />
<text x="371.46" y="227.70" font-size="9.4" text-anchor="middle" fill="#1e1e1e" textLength="13.50" lengthAdjust="spacingAndGlyphs">144</text>
<line x1="396.93" y1="213.50" x2="396.93" y2="216.60" stroke="#2a2a2a" stroke-width="1" />
<text x="396.93" y="227.70" font-size="9.4" text-anchor="middle" fill="#1e1e1e" textLength="13.50" lengthAdjust="spacingAndGlyphs">156</text>
<line x1="422.41" y1="213.50" x2="422.41" y2="216.60" stroke="#2a2a2a" stroke-width="1" />
<text x="422.41" y="227.70" font-size="9.4" text-anchor="middle" fill="#1e1e1e" textLength="13.50" lengthAdjust="spacingAndGlyphs">168</text>
<line x1="447.89" y1="213.50" x2="447.89" y2="216.60" stroke="#2a2a2a" stroke-width="1" />
<text x="447.89" y="227.70" font-size="9.4" text-anchor="middle" fill="#1e1e1e" textLength="13.50" lengthAdjust="spacingAndGlyphs">180</text>
<line x1="473.37" y1="213.50" x2="473.37" y2="216.60" stroke="#2a2a2a" stroke-width="1" />
<text x="473.37" y="227.70" font-size="9.4" text-anchor="middle" fill="#1e1e1e" textLength="13.50" lengthAdjust="spacingAndGlyphs">192</text>
<line x1="498.85" y1="213.50" x2="498.85" y2="216.60" stroke="#2a2a2a" stroke-width="1" />
<text x="498.85" y="227.70" font-size="9.4" text-anchor="middle" fill="#1e1e1e" textLength="13.50" lengthAdjust="spacingAndGlyphs">204</text>
<text x="278.50" y="241.20" font-size="9.6" text-anchor="middle" fill="#1e1e1e" textLength="51.40" lengthAdjust="spacingAndGlyphs">Time (months)</text>
<text transform="translate(15.9,116.6) rotate(-90)" font-size="10.8" text-anchor="middle" fill="#1e1e1e" textLength="55.4" lengthAdjust="spacingAndGlyphs">Overall survival</text>
<text x="261.10" y="27.70" font-size="8.6" text-anchor="start" fill="#1e1e1e" textLength="23.50" lengthAdjust="spacingAndGlyphs">Group</text>
<text x="321.60" y="27.70" font-size="8.6" text-anchor="middle" fill="#1e1e1e">n</text>
<text x="377.00" y="27.70" font-size="8.6" text-anchor="middle" fill="#1e1e1e" textLength="63.10" lengthAdjust="spacingAndGlyphs">Median (CI 95%)</text>
<text x="449.50" y="27.70" font-size="8.6" text-anchor="middle" fill="#1e1e1e" textLength="45.60" lengthAdjust="spacingAndGlyphs">HR (CI 95%)</text>
<text x="484.4" y="27.7" font-size="8.6" fill="#1e1e1e" textLength="26.9" lengthAdjust="spacingAndGlyphs"><tspan font-style="italic">P</tspan>.value</text>
<line x1="248.70" y1="37.40" x2="257.30" y2="37.40" stroke="#f3b61c" stroke-width="1.6" />
<text x="261.1" y="40.0" font-size="8.6" fill="#1e1e1e" textLength="33.9" lengthAdjust="spacingAndGlyphs"><tspan font-style="italic">TP53</tspan> WT</text>
<text x="321.40" y="40.00" font-size="8.6" text-anchor="middle" fill="#1e1e1e" textLength="13.50" lengthAdjust="spacingAndGlyphs">434</text>
<text x="377.00" y="40.00" font-size="8.6" text-anchor="middle" fill="#1e1e1e" textLength="76.50" lengthAdjust="spacingAndGlyphs">77.3m (66.50 - 86.0)</text>
<text x="449.60" y="40.00" font-size="8.6" text-anchor="middle" fill="#1e1e1e" textLength="13.80" lengthAdjust="spacingAndGlyphs">Ref.</text>
<text x="498.30" y="40.00" font-size="8.6" text-anchor="middle" fill="#1e1e1e">-</text>
<line x1="248.70" y1="49.70" x2="257.30" y2="49.70" stroke="#c4c4c4" stroke-width="1.6" />
<text x="261.1" y="52.3" font-size="8.6" fill="#1e1e1e" textLength="43.8" lengthAdjust="spacingAndGlyphs"><tspan font-style="italic">TP53</tspan> Mono</text>
<text x="321.40" y="52.30" font-size="8.6" text-anchor="middle" fill="#1e1e1e" textLength="9.00" lengthAdjust="spacingAndGlyphs">78</text>
<text x="377.00" y="52.30" font-size="8.6" text-anchor="middle" fill="#1e1e1e" textLength="71.90" lengthAdjust="spacingAndGlyphs">73.2m (57.0 - 91.1)</text>
<text x="449.60" y="52.30" font-size="8.6" text-anchor="middle" fill="#1e1e1e" textLength="48.80" lengthAdjust="spacingAndGlyphs">1.1 (0.8 - 1.6)</text>
<text x="498.30" y="52.30" font-size="8.6" text-anchor="middle" fill="#1e1e1e" textLength="11.30" lengthAdjust="spacingAndGlyphs">.58</text>
<line x1="248.70" y1="62.00" x2="257.30" y2="62.00" stroke="#1f4266" stroke-width="1.6" />
<text x="261.1" y="64.6" font-size="8.6" fill="#1e1e1e" textLength="40.3" lengthAdjust="spacingAndGlyphs"><tspan font-style="italic">TP53</tspan> Multi</text>
<text x="321.40" y="64.60" font-size="8.6" text-anchor="middle" fill="#1e1e1e" textLength="9.00" lengthAdjust="spacingAndGlyphs">27</text>
<text x="377.00" y="64.60" font-size="8.6" text-anchor="middle" fill="#1e1e1e" textLength="76.50" lengthAdjust="spacingAndGlyphs">56.9m (42.7 - 133.9)</text>
<text x="449.60" y="64.60" font-size="8.6" text-anchor="middle" fill="#1e1e1e" textLength="48.80" lengthAdjust="spacingAndGlyphs">1.2 (0.9 - 2.3)</text>
<text x="498.30" y="64.60" font-size="8.6" text-anchor="middle" fill="#1e1e1e" textLength="11.30" lengthAdjust="spacingAndGlyphs">.14</text>
<text x="44.90" y="254.50" font-size="8.6" text-anchor="start" fill="#1e1e1e" textLength="33.10" lengthAdjust="spacingAndGlyphs">N. at risk</text>
<line x1="40.60" y1="264.00" x2="53.80" y2="264.00" stroke="#1f4266" stroke-width="1.6" />
<text x="65.70" y="266.80" font-size="8.6" text-anchor="middle" fill="#1e1e1e" textLength="9.20" lengthAdjust="spacingAndGlyphs">27</text>
<text x="91.18" y="266.80" font-size="8.6" text-anchor="middle" fill="#1e1e1e" textLength="9.20" lengthAdjust="spacingAndGlyphs">24</text>
<text x="116.66" y="266.80" font-size="8.6" text-anchor="middle" fill="#1e1e1e" textLength="9.20" lengthAdjust="spacingAndGlyphs">22</text>
<text x="142.14" y="266.80" font-size="8.6" text-anchor="middle" fill="#1e1e1e" textLength="9.20" lengthAdjust="spacingAndGlyphs">17</text>
<text x="167.62" y="266.80" font-size="8.6" text-anchor="middle" fill="#1e1e1e" textLength="9.20" lengthAdjust="spacingAndGlyphs">13</text>
<text x="193.10" y="266.80" font-size="8.6" text-anchor="middle" fill="#1e1e1e" textLength="4.60" lengthAdjust="spacingAndGlyphs">9</text>
<text x="218.58" y="266.80" font-size="8.6" text-anchor="middle" fill="#1e1e1e" textLength="4.60" lengthAdjust="spacingAndGlyphs">8</text>
<text x="244.06" y="266.80" font-size="8.6" text-anchor="middle" fill="#1e1e1e" textLength="4.60" lengthAdjust="spacingAndGlyphs">5</text>
<text x="269.54" y="266.80" font-size="8.6" text-anchor="middle" fill="#1e1e1e" textLength="4.60" lengthAdjust="spacingAndGlyphs">3</text>
<text x="295.02" y="266.80" font-size="8.6" text-anchor="middle" fill="#1e1e1e" textLength="4.60" lengthAdjust="spacingAndGlyphs">3</text>
<text x="320.50" y="266.80" font-size="8.6" text-anchor="middle" fill="#1e1e1e" textLength="4.60" lengthAdjust="spacingAndGlyphs">2</text>
<text x="345.98" y="266.80" font-size="8.6" text-anchor="middle" fill="#1e1e1e" textLength="4.60" lengthAdjust="spacingAndGlyphs">2</text>
<text x="371.46" y="266.80" font-size="8.6" text-anchor="middle" fill="#1e1e1e" textLength="4.60" lengthAdjust="spacingAndGlyphs">1</text>
<text x="396.93" y="266.80" font-size="8.6" text-anchor="middle" fill="#1e1e1e" textLength="4.60" lengthAdjust="spacingAndGlyphs">1</text>
<text x="422.41" y="266.80" font-size="8.6" text-anchor="middle" fill="#1e1e1e" textLength="4.60" lengthAdjust="spacingAndGlyphs">1</text>
<text x="447.89" y="266.80" font-size="8.6" text-anchor="middle" fill="#1e1e1e" textLength="4.60" lengthAdjust="spacingAndGlyphs">1</text>
<text x="473.37" y="266.80" font-size="8.6" text-anchor="middle" fill="#1e1e1e" textLength="4.60" lengthAdjust="spacingAndGlyphs">0</text>
<text x="498.85" y="266.80" font-size="8.6" text-anchor="middle" fill="#1e1e1e" textLength="4.60" lengthAdjust="spacingAndGlyphs">0</text>
<line x1="40.60" y1="276.40" x2="53.80" y2="276.40" stroke="#f3b61c" stroke-width="1.6" />
<text x="65.70" y="279.20" font-size="8.6" text-anchor="middle" fill="#1e1e1e" textLength="13.80" lengthAdjust="spacingAndGlyphs">434</text>
<text x="91.18" y="279.20" font-size="8.6" text-anchor="middle" fill="#1e1e1e" textLength="13.80" lengthAdjust="spacingAndGlyphs">366</text>
<text x="116.66" y="279.20" font-size="8.6" text-anchor="middle" fill="#1e1e1e" textLength="13.80" lengthAdjust="spacingAndGlyphs">296</text>
<text x="142.14" y="279.20" font-size="8.6" text-anchor="middle" fill="#1e1e1e" textLength="13.80" lengthAdjust="spacingAndGlyphs">223</text>
<text x="167.62" y="279.20" font-size="8.6" text-anchor="middle" fill="#1e1e1e" textLength="13.80" lengthAdjust="spacingAndGlyphs">178</text>
<text x="193.10" y="279.20" font-size="8.6" text-anchor="middle" fill="#1e1e1e" textLength="13.80" lengthAdjust="spacingAndGlyphs">142</text>
<text x="218.58" y="279.20" font-size="8.6" text-anchor="middle" fill="#1e1e1e" textLength="13.80" lengthAdjust="spacingAndGlyphs">109</text>
<text x="244.06" y="279.20" font-size="8.6" text-anchor="middle" fill="#1e1e1e" textLength="9.20" lengthAdjust="spacingAndGlyphs">81</text>
<text x="269.54" y="279.20" font-size="8.6" text-anchor="middle" fill="#1e1e1e" textLength="9.20" lengthAdjust="spacingAndGlyphs">55</text>
<text x="295.02" y="279.20" font-size="8.6" text-anchor="middle" fill="#1e1e1e" textLength="9.20" lengthAdjust="spacingAndGlyphs">36</text>
<text x="320.50" y="279.20" font-size="8.6" text-anchor="middle" fill="#1e1e1e" textLength="9.20" lengthAdjust="spacingAndGlyphs">31</text>
<text x="345.98" y="279.20" font-size="8.6" text-anchor="middle" fill="#1e1e1e" textLength="9.20" lengthAdjust="spacingAndGlyphs">21</text>
<text x="371.46" y="279.20" font-size="8.6" text-anchor="middle" fill="#1e1e1e" textLength="9.20" lengthAdjust="spacingAndGlyphs">12</text>
<text x="396.93" y="279.20" font-size="8.6" text-anchor="middle" fill="#1e1e1e" textLength="4.60" lengthAdjust="spacingAndGlyphs">9</text>
<text x="422.41" y="279.20" font-size="8.6" text-anchor="middle" fill="#1e1e1e" textLength="4.60" lengthAdjust="spacingAndGlyphs">7</text>
<text x="447.89" y="279.20" font-size="8.6" text-anchor="middle" fill="#1e1e1e" textLength="4.60" lengthAdjust="spacingAndGlyphs">6</text>
<text x="473.37" y="279.20" font-size="8.6" text-anchor="middle" fill="#1e1e1e" textLength="4.60" lengthAdjust="spacingAndGlyphs">3</text>
<text x="498.85" y="279.20" font-size="8.6" text-anchor="middle" fill="#1e1e1e" textLength="4.60" lengthAdjust="spacingAndGlyphs">3</text>
<line x1="40.60" y1="288.70" x2="53.80" y2="288.70" stroke="#c4c4c4" stroke-width="1.6" />
<text x="65.70" y="291.50" font-size="8.6" text-anchor="middle" fill="#1e1e1e" textLength="9.20" lengthAdjust="spacingAndGlyphs">78</text>
<text x="91.18" y="291.50" font-size="8.6" text-anchor="middle" fill="#1e1e1e" textLength="9.20" lengthAdjust="spacingAndGlyphs">64</text>
<text x="116.66" y="291.50" font-size="8.6" text-anchor="middle" fill="#1e1e1e" textLength="9.20" lengthAdjust="spacingAndGlyphs">51</text>
<text x="142.14" y="291.50" font-size="8.6" text-anchor="middle" fill="#1e1e1e" textLength="9.20" lengthAdjust="spacingAndGlyphs">43</text>
<text x="167.62" y="291.50" font-size="8.6" text-anchor="middle" fill="#1e1e1e" textLength="9.20" lengthAdjust="spacingAndGlyphs">32</text>
<text x="193.10" y="291.50" font-size="8.6" text-anchor="middle" fill="#1e1e1e" textLength="9.20" lengthAdjust="spacingAndGlyphs">27</text>
<text x="218.58" y="291.50" font-size="8.6" text-anchor="middle" fill="#1e1e1e" textLength="9.20" lengthAdjust="spacingAndGlyphs">20</text>
<text x="244.06" y="291.50" font-size="8.6" text-anchor="middle" fill="#1e1e1e" textLength="9.20" lengthAdjust="spacingAndGlyphs">16</text>
<text x="269.54" y="291.50" font-size="8.6" text-anchor="middle" fill="#1e1e1e" textLength="9.20" lengthAdjust="spacingAndGlyphs">10</text>
<text x="295.02" y="291.50" font-size="8.6" text-anchor="middle" fill="#1e1e1e" textLength="4.60" lengthAdjust="spacingAndGlyphs">9</text>
<text x="320.50" y="291.50" font-size="8.6" text-anchor="middle" fill="#1e1e1e" textLength="4.60" lengthAdjust="spacingAndGlyphs">5</text>
<text x="345.98" y="291.50" font-size="8.6" text-anchor="middle" fill="#1e1e1e" textLength="4.60" lengthAdjust="spacingAndGlyphs">4</text>
<text x="371.46" y="291.50" font-size="8.6" text-anchor="middle" fill="#1e1e1e" textLength="4.60" lengthAdjust="spacingAndGlyphs">4</text>
<text x="396.93" y="291.50" font-size="8.6" text-anchor="middle" fill="#1e1e1e" textLength="4.60" lengthAdjust="spacingAndGlyphs">4</text>
<text x="422.41" y="291.50" font-size="8.6" text-anchor="middle" fill="#1e1e1e" textLength="4.60" lengthAdjust="spacingAndGlyphs">3</text>
<text x="447.89" y="291.50" font-size="8.6" text-anchor="middle" fill="#1e1e1e" textLength="4.60" lengthAdjust="spacingAndGlyphs">3</text>
<text x="473.37" y="291.50" font-size="8.6" text-anchor="middle" fill="#1e1e1e" textLength="4.60" lengthAdjust="spacingAndGlyphs">3</text>
<text x="498.85" y="291.50" font-size="8.6" text-anchor="middle" fill="#1e1e1e" textLength="4.60" lengthAdjust="spacingAndGlyphs">2</text>
<text x="7.60" y="320.20" font-size="12.4" text-anchor="start" fill="#111" font-weight="bold" stroke="#111" stroke-width="0.35">B</text>
<line x1="44.70" y1="325.00" x2="44.70" y2="476.80" stroke="#2a2a2a" stroke-width="1.25" />
<line x1="44.10" y1="476.30" x2="512.40" y2="476.30" stroke="#2a2a2a" stroke-width="1.25" />
<line x1="41.40" y1="327.70" x2="44.60" y2="327.70" stroke="#2a2a2a" stroke-width="1" />
<text x="38.30" y="331.00" font-size="9.6" text-anchor="end" fill="#1e1e1e" textLength="15.60" lengthAdjust="spacingAndGlyphs">1.00</text>
<line x1="41.40" y1="362.70" x2="44.60" y2="362.70" stroke="#2a2a2a" stroke-width="1" />
<text x="38.30" y="366.00" font-size="9.6" text-anchor="end" fill="#1e1e1e" textLength="16.20" lengthAdjust="spacingAndGlyphs">0.75</text>
<line x1="41.40" y1="397.70" x2="44.60" y2="397.70" stroke="#2a2a2a" stroke-width="1" />
<text x="38.30" y="401.00" font-size="9.6" text-anchor="end" fill="#1e1e1e" textLength="16.20" lengthAdjust="spacingAndGlyphs">0.50</text>
<line x1="41.40" y1="432.70" x2="44.60" y2="432.70" stroke="#2a2a2a" stroke-width="1" />
<text x="38.30" y="436.00" font-size="9.6" text-anchor="end" fill="#1e1e1e" textLength="16.20" lengthAdjust="spacingAndGlyphs">0.25</text>
<line x1="41.40" y1="467.70" x2="44.60" y2="467.70" stroke="#2a2a2a" stroke-width="1" />
<text x="38.30" y="471.00" font-size="9.6" text-anchor="end" fill="#1e1e1e" textLength="16.20" lengthAdjust="spacingAndGlyphs">0.00</text>
<line x1="68.80" y1="476.20" x2="68.80" y2="479.30" stroke="#2a2a2a" stroke-width="1" />
<text x="68.80" y="490.30" font-size="9.4" text-anchor="middle" fill="#1e1e1e" textLength="4.50" lengthAdjust="spacingAndGlyphs">0</text>
<line x1="104.34" y1="476.20" x2="104.34" y2="479.30" stroke="#2a2a2a" stroke-width="1" />
<text x="104.34" y="490.30" font-size="9.4" text-anchor="middle" fill="#1e1e1e" textLength="9.00" lengthAdjust="spacingAndGlyphs">12</text>
<line x1="139.89" y1="476.20" x2="139.89" y2="479.30" stroke="#2a2a2a" stroke-width="1" />
<text x="139.89" y="490.30" font-size="9.4" text-anchor="middle" fill="#1e1e1e" textLength="9.00" lengthAdjust="spacingAndGlyphs">24</text>
<line x1="175.43" y1="476.20" x2="175.43" y2="479.30" stroke="#2a2a2a" stroke-width="1" />
<text x="175.43" y="490.30" font-size="9.4" text-anchor="middle" fill="#1e1e1e" textLength="9.00" lengthAdjust="spacingAndGlyphs">36</text>
<line x1="210.98" y1="476.20" x2="210.98" y2="479.30" stroke="#2a2a2a" stroke-width="1" />
<text x="210.98" y="490.30" font-size="9.4" text-anchor="middle" fill="#1e1e1e" textLength="9.00" lengthAdjust="spacingAndGlyphs">48</text>
<line x1="246.52" y1="476.20" x2="246.52" y2="479.30" stroke="#2a2a2a" stroke-width="1" />
<text x="246.52" y="490.30" font-size="9.4" text-anchor="middle" fill="#1e1e1e" textLength="9.00" lengthAdjust="spacingAndGlyphs">60</text>
<line x1="282.06" y1="476.20" x2="282.06" y2="479.30" stroke="#2a2a2a" stroke-width="1" />
<text x="282.06" y="490.30" font-size="9.4" text-anchor="middle" fill="#1e1e1e" textLength="9.00" lengthAdjust="spacingAndGlyphs">72</text>
<line x1="317.61" y1="476.20" x2="317.61" y2="479.30" stroke="#2a2a2a" stroke-width="1" />
<text x="317.61" y="490.30" font-size="9.4" text-anchor="middle" fill="#1e1e1e" textLength="9.00" lengthAdjust="spacingAndGlyphs">84</text>
<line x1="353.15" y1="476.20" x2="353.15" y2="479.30" stroke="#2a2a2a" stroke-width="1" />
<text x="353.15" y="490.30" font-size="9.4" text-anchor="middle" fill="#1e1e1e" textLength="9.00" lengthAdjust="spacingAndGlyphs">96</text>
<line x1="388.70" y1="476.20" x2="388.70" y2="479.30" stroke="#2a2a2a" stroke-width="1" />
<text x="388.70" y="490.30" font-size="9.4" text-anchor="middle" fill="#1e1e1e" textLength="13.50" lengthAdjust="spacingAndGlyphs">108</text>
<line x1="424.24" y1="476.20" x2="424.24" y2="479.30" stroke="#2a2a2a" stroke-width="1" />
<text x="424.24" y="490.30" font-size="9.4" text-anchor="middle" fill="#1e1e1e" textLength="13.50" lengthAdjust="spacingAndGlyphs">120</text>
<line x1="459.78" y1="476.20" x2="459.78" y2="479.30" stroke="#2a2a2a" stroke-width="1" />
<text x="459.78" y="490.30" font-size="9.4" text-anchor="middle" fill="#1e1e1e" textLength="13.50" lengthAdjust="spacingAndGlyphs">132</text>
<line x1="495.33" y1="476.20" x2="495.33" y2="479.30" stroke="#2a2a2a" stroke-width="1" />
<text x="495.33" y="490.30" font-size="9.4" text-anchor="middle" fill="#1e1e1e" textLength="13.50" lengthAdjust="spacingAndGlyphs">144</text>
<text x="278.60" y="503.40" font-size="9.6" text-anchor="middle" fill="#1e1e1e" textLength="51.40" lengthAdjust="spacingAndGlyphs">Time (months)</text>
<text transform="translate(16.5,399.2) rotate(-90)" font-size="10.8" text-anchor="middle" fill="#1e1e1e" textLength="105.8" lengthAdjust="spacingAndGlyphs">AML transformation incidence</text>
<text x="138.90" y="330.70" font-size="8.6" text-anchor="middle" fill="#1e1e1e" textLength="45.20" lengthAdjust="spacingAndGlyphs">HR (CI 95%)</text>
<text x="173.8" y="330.7" font-size="8.6" fill="#1e1e1e" textLength="27.2" lengthAdjust="spacingAndGlyphs"><tspan font-style="italic">P</tspan>.value</text>
<line x1="52.00" y1="340.00" x2="60.20" y2="340.00" stroke="#f3b61c" stroke-width="1.6" />
<text x="63.4" y="342.6" font-size="8.6" fill="#1e1e1e" textLength="33.6" lengthAdjust="spacingAndGlyphs"><tspan font-style="italic">TP53</tspan> WT</text>
<text x="138.90" y="342.60" font-size="8.6" text-anchor="middle" fill="#1e1e1e" textLength="14.50" lengthAdjust="spacingAndGlyphs">Ref.</text>
<text x="187.60" y="342.60" font-size="8.6" text-anchor="middle" fill="#1e1e1e">-</text>
<line x1="52.00" y1="352.30" x2="60.20" y2="352.30" stroke="#c4c4c4" stroke-width="1.6" />
<text x="63.4" y="354.9" font-size="8.6" fill="#1e1e1e" textLength="43.1" lengthAdjust="spacingAndGlyphs"><tspan font-style="italic">TP53</tspan> Mono</text>
<text x="138.90" y="354.90" font-size="8.6" text-anchor="middle" fill="#1e1e1e" textLength="49.10" lengthAdjust="spacingAndGlyphs">1.5 (0.9 - 2.4)</text>
<text x="187.60" y="354.90" font-size="8.6" text-anchor="middle" fill="#1e1e1e" textLength="11.50" lengthAdjust="spacingAndGlyphs">.09</text>
<line x1="52.00" y1="364.60" x2="60.20" y2="364.60" stroke="#1f4266" stroke-width="1.6" />
<text x="63.4" y="367.2" font-size="8.6" fill="#1e1e1e" textLength="39.7" lengthAdjust="spacingAndGlyphs"><tspan font-style="italic">TP53</tspan> Multi</text>
<text x="138.90" y="367.20" font-size="8.6" text-anchor="middle" fill="#1e1e1e" textLength="49.10" lengthAdjust="spacingAndGlyphs">2.9 (1.7 - 5.0)</text>
<text x="187.60" y="367.20" font-size="8.6" text-anchor="middle" fill="#1e1e1e" textLength="18.10" lengthAdjust="spacingAndGlyphs">&lt; .01</text>
<line x1="48.50" y1="514.60" x2="57.40" y2="514.60" stroke="#f3b61c" stroke-width="1.6" />
<text x="68.80" y="516.90" font-size="8.6" text-anchor="middle" fill="#1e1e1e" textLength="13.80" lengthAdjust="spacingAndGlyphs">406</text>
<text x="104.34" y="516.90" font-size="8.6" text-anchor="middle" fill="#1e1e1e" textLength="13.80" lengthAdjust="spacingAndGlyphs">333</text>
<text x="139.89" y="516.90" font-size="8.6" text-anchor="middle" fill="#1e1e1e" textLength="13.80" lengthAdjust="spacingAndGlyphs">266</text>
<text x="175.43" y="516.90" font-size="8.6" text-anchor="middle" fill="#1e1e1e" textLength="13.80" lengthAdjust="spacingAndGlyphs">193</text>
<text x="210.98" y="516.90" font-size="8.6" text-anchor="middle" fill="#1e1e1e" textLength="13.80" lengthAdjust="spacingAndGlyphs">155</text>
<text x="246.52" y="516.90" font-size="8.6" text-anchor="middle" fill="#1e1e1e" textLength="13.80" lengthAdjust="spacingAndGlyphs">119</text>
<text x="282.06" y="516.90" font-size="8.6" text-anchor="middle" fill="#1e1e1e" textLength="9.20" lengthAdjust="spacingAndGlyphs">90</text>
<text x="317.61" y="516.90" font-size="8.6" text-anchor="middle" fill="#1e1e1e" textLength="9.20" lengthAdjust="spacingAndGlyphs">69</text>
<text x="353.15" y="516.90" font-size="8.6" text-anchor="middle" fill="#1e1e1e" textLength="9.20" lengthAdjust="spacingAndGlyphs">48</text>
<text x="388.70" y="516.90" font-size="8.6" text-anchor="middle" fill="#1e1e1e" textLength="9.20" lengthAdjust="spacingAndGlyphs">32</text>
<text x="424.24" y="516.90" font-size="8.6" text-anchor="middle" fill="#1e1e1e" textLength="9.20" lengthAdjust="spacingAndGlyphs">27</text>
<text x="459.78" y="516.90" font-size="8.6" text-anchor="middle" fill="#1e1e1e" textLength="9.20" lengthAdjust="spacingAndGlyphs">16</text>
<text x="495.33" y="516.90" font-size="8.6" text-anchor="middle" fill="#1e1e1e" textLength="4.60" lengthAdjust="spacingAndGlyphs">8</text>
<line x1="48.50" y1="526.90" x2="57.40" y2="526.90" stroke="#c4c4c4" stroke-width="1.6" />
<text x="68.80" y="529.20" font-size="8.6" text-anchor="middle" fill="#1e1e1e" textLength="9.20" lengthAdjust="spacingAndGlyphs">75</text>
<text x="104.34" y="529.20" font-size="8.6" text-anchor="middle" fill="#1e1e1e" textLength="9.20" lengthAdjust="spacingAndGlyphs">61</text>
<text x="139.89" y="529.20" font-size="8.6" text-anchor="middle" fill="#1e1e1e" textLength="9.20" lengthAdjust="spacingAndGlyphs">48</text>
<text x="175.43" y="529.20" font-size="8.6" text-anchor="middle" fill="#1e1e1e" textLength="9.20" lengthAdjust="spacingAndGlyphs">38</text>
<text x="210.98" y="529.20" font-size="8.6" text-anchor="middle" fill="#1e1e1e" textLength="9.20" lengthAdjust="spacingAndGlyphs">26</text>
<text x="246.52" y="529.20" font-size="8.6" text-anchor="middle" fill="#1e1e1e" textLength="9.20" lengthAdjust="spacingAndGlyphs">23</text>
<text x="282.06" y="529.20" font-size="8.6" text-anchor="middle" fill="#1e1e1e" textLength="9.20" lengthAdjust="spacingAndGlyphs">18</text>
<text x="317.61" y="529.20" font-size="8.6" text-anchor="middle" fill="#1e1e1e" textLength="9.20" lengthAdjust="spacingAndGlyphs">12</text>
<text x="353.15" y="529.20" font-size="8.6" text-anchor="middle" fill="#1e1e1e" textLength="4.60" lengthAdjust="spacingAndGlyphs">9</text>
<text x="388.70" y="529.20" font-size="8.6" text-anchor="middle" fill="#1e1e1e" textLength="4.60" lengthAdjust="spacingAndGlyphs">7</text>
<text x="424.24" y="529.20" font-size="8.6" text-anchor="middle" fill="#1e1e1e" textLength="4.60" lengthAdjust="spacingAndGlyphs">5</text>
<text x="459.78" y="529.20" font-size="8.6" text-anchor="middle" fill="#1e1e1e" textLength="4.60" lengthAdjust="spacingAndGlyphs">4</text>
<text x="495.33" y="529.20" font-size="8.6" text-anchor="middle" fill="#1e1e1e" textLength="4.60" lengthAdjust="spacingAndGlyphs">4</text>
<line x1="48.50" y1="539.20" x2="57.40" y2="539.20" stroke="#1f4266" stroke-width="1.6" />
<text x="68.80" y="541.50" font-size="8.6" text-anchor="middle" fill="#1e1e1e" textLength="9.20" lengthAdjust="spacingAndGlyphs">26</text>
<text x="104.34" y="541.50" font-size="8.6" text-anchor="middle" fill="#1e1e1e" textLength="9.20" lengthAdjust="spacingAndGlyphs">22</text>
<text x="139.89" y="541.50" font-size="8.6" text-anchor="middle" fill="#1e1e1e" textLength="9.20" lengthAdjust="spacingAndGlyphs">19</text>
<text x="175.43" y="541.50" font-size="8.6" text-anchor="middle" fill="#1e1e1e" textLength="9.20" lengthAdjust="spacingAndGlyphs">14</text>
<text x="210.98" y="541.50" font-size="8.6" text-anchor="middle" fill="#1e1e1e" textLength="4.60" lengthAdjust="spacingAndGlyphs">9</text>
<text x="246.52" y="541.50" font-size="8.6" text-anchor="middle" fill="#1e1e1e" textLength="4.60" lengthAdjust="spacingAndGlyphs">8</text>
<text x="282.06" y="541.50" font-size="8.6" text-anchor="middle" fill="#1e1e1e" textLength="4.60" lengthAdjust="spacingAndGlyphs">6</text>
<text x="317.61" y="541.50" font-size="8.6" text-anchor="middle" fill="#1e1e1e" textLength="4.60" lengthAdjust="spacingAndGlyphs">4</text>
<text x="353.15" y="541.50" font-size="8.6" text-anchor="middle" fill="#1e1e1e" textLength="4.60" lengthAdjust="spacingAndGlyphs">2</text>
<text x="388.70" y="541.50" font-size="8.6" text-anchor="middle" fill="#1e1e1e" textLength="4.60" lengthAdjust="spacingAndGlyphs">2</text>
<text x="424.24" y="541.50" font-size="8.6" text-anchor="middle" fill="#1e1e1e" textLength="4.60" lengthAdjust="spacingAndGlyphs">1</text>
<text x="459.78" y="541.50" font-size="8.6" text-anchor="middle" fill="#1e1e1e" textLength="4.60" lengthAdjust="spacingAndGlyphs">1</text>
<text x="495.33" y="541.50" font-size="8.6" text-anchor="middle" fill="#1e1e1e" textLength="4.60" lengthAdjust="spacingAndGlyphs">0</text>
</svg>
<div class="frame"></div>
</body></html>
